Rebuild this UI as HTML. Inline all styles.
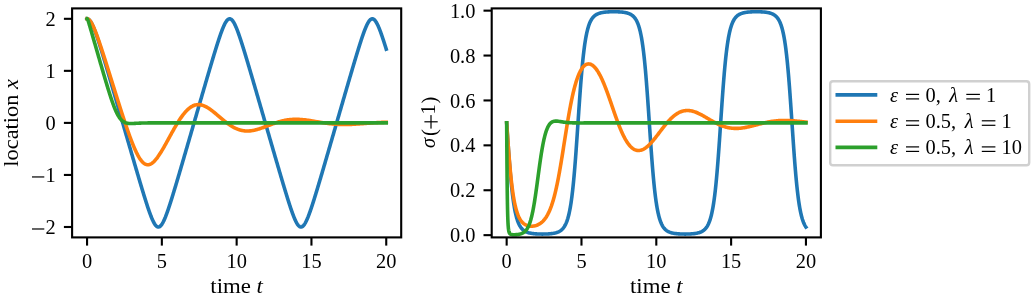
<!DOCTYPE html>
<html><head><meta charset="utf-8"><style>html,body{margin:0;padding:0;background:#fff;overflow:hidden;width:1033px;height:301px;}svg{display:block;will-change:transform;}</style></head>
<body><svg width="1033" height="301" viewBox="0 0 1033 301"><rect width="100%" height="100%" fill="#fff"/><clipPath id="c0"><rect x="72.1" y="8.4" width="329.10" height="229.00"/></clipPath><g clip-path="url(#c0)" fill="none" stroke-width="3.6" stroke-linejoin="round" stroke-linecap="square"><path d="M87.06 18.81 L87.78 18.93 L88.35 19.19 L88.82 19.52 L89.27 19.92 L89.66 20.34 L90.05 20.81 L90.41 21.30 L90.74 21.80 L91.07 22.33 L91.37 22.85 L91.67 23.39 L91.97 23.96 L92.23 24.50 L92.50 25.06 L92.77 25.64 L93.04 26.24 L93.31 26.86 L93.55 27.42 L93.79 27.99 L94.03 28.58 L94.27 29.18 L94.51 29.79 L94.75 30.41 L94.99 31.04 L95.23 31.68 L95.47 32.33 L95.71 32.99 L95.94 33.66 L96.18 34.34 L96.39 34.93 L96.60 35.54 L96.81 36.14 L97.02 36.76 L97.23 37.37 L97.44 38.00 L97.65 38.62 L97.86 39.25 L98.07 39.89 L98.28 40.53 L98.49 41.17 L98.70 41.81 L98.91 42.46 L99.12 43.11 L99.33 43.77 L99.53 44.43 L99.74 45.09 L99.95 45.75 L100.16 46.42 L100.37 47.09 L100.58 47.76 L100.79 48.43 L101.00 49.10 L101.21 49.78 L101.42 50.46 L101.63 51.14 L101.84 51.82 L102.05 52.51 L102.26 53.19 L102.47 53.88 L102.68 54.57 L102.89 55.26 L103.10 55.95 L103.30 56.64 L103.51 57.34 L103.72 58.03 L103.93 58.73 L104.14 59.42 L104.35 60.12 L104.56 60.82 L104.77 61.52 L104.98 62.22 L105.19 62.92 L105.40 63.63 L105.61 64.33 L105.82 65.04 L106.03 65.74 L106.24 66.45 L106.45 67.15 L106.66 67.86 L106.86 68.57 L107.07 69.28 L107.28 69.98 L107.49 70.69 L107.70 71.40 L107.91 72.11 L108.12 72.82 L108.33 73.54 L108.54 74.25 L108.75 74.96 L108.96 75.67 L109.17 76.38 L109.38 77.10 L109.59 77.81 L109.80 78.53 L110.01 79.24 L110.22 79.96 L110.43 80.67 L110.63 81.39 L110.84 82.10 L111.05 82.82 L111.26 83.53 L111.47 84.25 L111.68 84.97 L111.89 85.68 L112.10 86.40 L112.31 87.12 L112.52 87.84 L112.73 88.55 L112.94 89.27 L113.15 89.99 L113.36 90.71 L113.57 91.43 L113.78 92.14 L113.99 92.86 L114.19 93.58 L114.40 94.30 L114.61 95.02 L114.82 95.74 L115.03 96.46 L115.24 97.18 L115.45 97.90 L115.66 98.62 L115.87 99.34 L116.08 100.06 L116.29 100.78 L116.50 101.50 L116.71 102.22 L116.92 102.94 L117.13 103.66 L117.34 104.38 L117.55 105.10 L117.76 105.82 L117.96 106.54 L118.17 107.27 L118.38 107.99 L118.59 108.71 L118.80 109.43 L119.01 110.15 L119.22 110.87 L119.43 111.59 L119.64 112.31 L119.85 113.04 L120.06 113.76 L120.27 114.48 L120.48 115.20 L120.69 115.92 L120.90 116.64 L121.11 117.36 L121.32 118.09 L121.52 118.81 L121.73 119.53 L121.94 120.25 L122.15 120.97 L122.36 121.69 L122.57 122.42 L122.78 123.14 L122.99 123.86 L123.20 124.58 L123.41 125.30 L123.62 126.02 L123.83 126.75 L124.04 127.47 L124.25 128.19 L124.46 128.91 L124.67 129.63 L124.88 130.35 L125.09 131.08 L125.29 131.80 L125.50 132.52 L125.71 133.24 L125.92 133.96 L126.13 134.68 L126.34 135.40 L126.55 136.12 L126.76 136.85 L126.97 137.57 L127.18 138.29 L127.39 139.01 L127.60 139.73 L127.81 140.45 L128.02 141.17 L128.23 141.89 L128.44 142.61 L128.65 143.33 L128.85 144.05 L129.06 144.77 L129.27 145.49 L129.48 146.21 L129.69 146.93 L129.90 147.65 L130.11 148.37 L130.32 149.09 L130.53 149.81 L130.74 150.53 L130.95 151.25 L131.16 151.97 L131.37 152.69 L131.58 153.41 L131.79 154.13 L132.00 154.85 L132.21 155.57 L132.42 156.28 L132.62 157.00 L132.83 157.72 L133.04 158.44 L133.25 159.15 L133.46 159.87 L133.67 160.59 L133.88 161.31 L134.09 162.02 L134.30 162.74 L134.51 163.45 L134.72 164.17 L134.93 164.89 L135.14 165.60 L135.35 166.32 L135.56 167.03 L135.77 167.74 L135.98 168.46 L136.18 169.17 L136.39 169.88 L136.60 170.60 L136.81 171.31 L137.02 172.02 L137.23 172.73 L137.44 173.44 L137.65 174.15 L137.86 174.86 L138.07 175.57 L138.28 176.28 L138.49 176.99 L138.70 177.70 L138.91 178.41 L139.12 179.11 L139.33 179.82 L139.54 180.52 L139.75 181.23 L139.95 181.93 L140.16 182.64 L140.37 183.34 L140.58 184.04 L140.79 184.74 L141.00 185.44 L141.21 186.14 L141.42 186.83 L141.63 187.53 L141.84 188.23 L142.05 188.92 L142.26 189.61 L142.47 190.31 L142.68 191.00 L142.89 191.69 L143.10 192.37 L143.31 193.06 L143.51 193.74 L143.72 194.43 L143.93 195.11 L144.14 195.79 L144.35 196.46 L144.56 197.14 L144.77 197.81 L144.98 198.49 L145.19 199.15 L145.40 199.82 L145.61 200.49 L145.82 201.15 L146.03 201.81 L146.24 202.46 L146.45 203.12 L146.66 203.77 L146.87 204.41 L147.07 205.06 L147.28 205.70 L147.49 206.33 L147.70 206.96 L147.91 207.59 L148.12 208.21 L148.33 208.83 L148.54 209.45 L148.75 210.06 L148.96 210.66 L149.17 211.26 L149.38 211.85 L149.62 212.52 L149.86 213.19 L150.10 213.84 L150.34 214.49 L150.58 215.12 L150.81 215.75 L151.05 216.36 L151.29 216.97 L151.53 217.56 L151.77 218.14 L152.01 218.71 L152.28 219.33 L152.55 219.93 L152.82 220.52 L153.09 221.09 L153.36 221.63 L153.66 222.22 L153.96 222.77 L154.26 223.30 L154.58 223.84 L154.91 224.35 L155.27 224.85 L155.63 225.31 L156.02 225.75 L156.44 226.15 L156.92 226.51 L157.46 226.80 L158.11 226.98 L158.89 226.93 L159.49 226.70 L160.00 226.38 L160.45 226.01 L160.87 225.58 L161.26 225.12 L161.62 224.64 L161.94 224.16 L162.27 223.64 L162.57 223.13 L162.87 222.60 L163.17 222.03 L163.44 221.50 L163.71 220.95 L163.98 220.38 L164.25 219.79 L164.52 219.18 L164.79 218.55 L165.03 217.98 L165.27 217.40 L165.50 216.80 L165.74 216.19 L165.98 215.57 L166.22 214.95 L166.46 214.31 L166.70 213.66 L166.94 213.00 L167.18 212.34 L167.42 211.67 L167.63 211.07 L167.84 210.47 L168.05 209.87 L168.26 209.25 L168.47 208.64 L168.68 208.02 L168.89 207.39 L169.09 206.76 L169.30 206.13 L169.51 205.49 L169.72 204.85 L169.93 204.21 L170.14 203.56 L170.35 202.91 L170.56 202.25 L170.77 201.60 L170.98 200.94 L171.19 200.28 L171.40 199.61 L171.61 198.94 L171.82 198.27 L172.03 197.60 L172.24 196.93 L172.45 196.25 L172.66 195.57 L172.86 194.89 L173.07 194.21 L173.28 193.53 L173.49 192.84 L173.70 192.16 L173.91 191.47 L174.12 190.78 L174.33 190.09 L174.54 189.39 L174.75 188.70 L174.96 188.01 L175.17 187.31 L175.38 186.61 L175.59 185.92 L175.80 185.22 L176.01 184.52 L176.22 183.82 L176.42 183.12 L176.63 182.41 L176.84 181.71 L177.05 181.01 L177.26 180.30 L177.47 179.60 L177.68 178.89 L177.89 178.18 L178.10 177.47 L178.31 176.77 L178.52 176.06 L178.73 175.35 L178.94 174.64 L179.15 173.93 L179.36 173.22 L179.57 172.51 L179.78 171.80 L179.98 171.08 L180.19 170.37 L180.40 169.66 L180.61 168.95 L180.82 168.23 L181.03 167.52 L181.24 166.80 L181.45 166.09 L181.66 165.37 L181.87 164.66 L182.08 163.94 L182.29 163.23 L182.50 162.51 L182.71 161.80 L182.92 161.08 L183.13 160.36 L183.34 159.64 L183.55 158.93 L183.75 158.21 L183.96 157.49 L184.17 156.77 L184.38 156.06 L184.59 155.34 L184.80 154.62 L185.01 153.90 L185.22 153.18 L185.43 152.46 L185.64 151.74 L185.85 151.02 L186.06 150.31 L186.27 149.59 L186.48 148.87 L186.69 148.15 L186.90 147.43 L187.11 146.71 L187.31 145.99 L187.52 145.27 L187.73 144.55 L187.94 143.83 L188.15 143.11 L188.36 142.38 L188.57 141.66 L188.78 140.94 L188.99 140.22 L189.20 139.50 L189.41 138.78 L189.62 138.06 L189.83 137.34 L190.04 136.62 L190.25 135.90 L190.46 135.18 L190.67 134.45 L190.88 133.73 L191.08 133.01 L191.29 132.29 L191.50 131.57 L191.71 130.85 L191.92 130.13 L192.13 129.40 L192.34 128.68 L192.55 127.96 L192.76 127.24 L192.97 126.52 L193.18 125.80 L193.39 125.07 L193.60 124.35 L193.81 123.63 L194.02 122.91 L194.23 122.19 L194.44 121.47 L194.64 120.74 L194.85 120.02 L195.06 119.30 L195.27 118.58 L195.48 117.86 L195.69 117.14 L195.90 116.41 L196.11 115.69 L196.32 114.97 L196.53 114.25 L196.74 113.53 L196.95 112.81 L197.16 112.09 L197.37 111.36 L197.58 110.64 L197.79 109.92 L198.00 109.20 L198.21 108.48 L198.41 107.76 L198.62 107.04 L198.83 106.32 L199.04 105.60 L199.25 104.87 L199.46 104.15 L199.67 103.43 L199.88 102.71 L200.09 101.99 L200.30 101.27 L200.51 100.55 L200.72 99.83 L200.93 99.11 L201.14 98.39 L201.35 97.67 L201.56 96.95 L201.77 96.23 L201.97 95.51 L202.18 94.79 L202.39 94.07 L202.60 93.35 L202.81 92.64 L203.02 91.92 L203.23 91.20 L203.44 90.48 L203.65 89.76 L203.86 89.04 L204.07 88.33 L204.28 87.61 L204.49 86.89 L204.70 86.17 L204.91 85.46 L205.12 84.74 L205.33 84.02 L205.54 83.31 L205.74 82.59 L205.95 81.87 L206.16 81.16 L206.37 80.44 L206.58 79.73 L206.79 79.01 L207.00 78.30 L207.21 77.59 L207.42 76.87 L207.63 76.16 L207.84 75.45 L208.05 74.73 L208.26 74.02 L208.47 73.31 L208.68 72.60 L208.89 71.89 L209.10 71.18 L209.30 70.47 L209.51 69.76 L209.72 69.05 L209.93 68.34 L210.14 67.64 L210.35 66.93 L210.56 66.22 L210.77 65.52 L210.98 64.81 L211.19 64.11 L211.40 63.40 L211.61 62.70 L211.82 62.00 L212.03 61.30 L212.24 60.60 L212.45 59.90 L212.66 59.20 L212.87 58.51 L213.07 57.81 L213.28 57.12 L213.49 56.42 L213.70 55.73 L213.91 55.04 L214.12 54.35 L214.33 53.66 L214.54 52.98 L214.75 52.29 L214.96 51.61 L215.17 50.92 L215.38 50.24 L215.59 49.57 L215.80 48.89 L216.01 48.22 L216.22 47.54 L216.43 46.87 L216.63 46.21 L216.84 45.54 L217.05 44.88 L217.26 44.22 L217.47 43.56 L217.68 42.91 L217.89 42.26 L218.10 41.61 L218.31 40.96 L218.52 40.32 L218.73 39.69 L218.94 39.05 L219.15 38.42 L219.36 37.80 L219.57 37.18 L219.78 36.56 L219.99 35.95 L220.20 35.34 L220.40 34.74 L220.61 34.15 L220.85 33.47 L221.09 32.81 L221.33 32.15 L221.57 31.51 L221.81 30.87 L222.05 30.24 L222.29 29.62 L222.53 29.01 L222.77 28.42 L223.01 27.83 L223.25 27.26 L223.52 26.63 L223.79 26.02 L224.05 25.43 L224.32 24.86 L224.59 24.31 L224.86 23.78 L225.16 23.21 L225.46 22.68 L225.76 22.17 L226.09 21.65 L226.42 21.17 L226.78 20.69 L227.17 20.23 L227.58 19.80 L228.03 19.42 L228.54 19.10 L229.14 18.87 L229.89 18.82 L230.55 18.98 L231.09 19.27 L231.56 19.62 L231.98 20.02 L232.37 20.45 L232.73 20.90 L233.09 21.40 L233.42 21.90 L233.75 22.44 L234.05 22.96 L234.35 23.52 L234.65 24.10 L234.91 24.64 L235.18 25.20 L235.45 25.79 L235.72 26.39 L235.99 27.01 L236.23 27.58 L236.47 28.16 L236.71 28.75 L236.95 29.35 L237.19 29.96 L237.43 30.59 L237.67 31.22 L237.91 31.86 L238.15 32.52 L238.39 33.18 L238.62 33.85 L238.83 34.44 L239.04 35.04 L239.25 35.64 L239.46 36.25 L239.67 36.86 L239.88 37.48 L240.09 38.10 L240.30 38.73 L240.51 39.36 L240.72 40.00 L240.93 40.64 L241.14 41.28 L241.35 41.93 L241.56 42.58 L241.77 43.23 L241.98 43.88 L242.18 44.54 L242.39 45.20 L242.60 45.87 L242.81 46.53 L243.02 47.20 L243.23 47.87 L243.44 48.55 L243.65 49.22 L243.86 49.90 L244.07 50.58 L244.28 51.26 L244.49 51.94 L244.70 52.63 L244.91 53.31 L245.12 54.00 L245.33 54.69 L245.54 55.38 L245.75 56.07 L245.95 56.76 L246.16 57.46 L246.37 58.15 L246.58 58.85 L246.79 59.55 L247.00 60.24 L247.21 60.94 L247.42 61.64 L247.63 62.34 L247.84 63.05 L248.05 63.75 L248.26 64.45 L248.47 65.16 L248.68 65.86 L248.89 66.57 L249.10 67.28 L249.31 67.98 L249.51 68.69 L249.72 69.40 L249.93 70.11 L250.14 70.82 L250.35 71.53 L250.56 72.24 L250.77 72.95 L250.98 73.66 L251.19 74.37 L251.40 75.08 L251.61 75.80 L251.82 76.51 L252.03 77.22 L252.24 77.94 L252.45 78.65 L252.66 79.36 L252.87 80.08 L253.08 80.79 L253.28 81.51 L253.49 82.23 L253.70 82.94 L253.91 83.66 L254.12 84.37 L254.33 85.09 L254.54 85.81 L254.75 86.53 L254.96 87.24 L255.17 87.96 L255.38 88.68 L255.59 89.40 L255.80 90.11 L256.01 90.83 L256.22 91.55 L256.43 92.27 L256.64 92.99 L256.84 93.71 L257.05 94.43 L257.26 95.15 L257.47 95.87 L257.68 96.58 L257.89 97.30 L258.10 98.02 L258.31 98.74 L258.52 99.46 L258.73 100.18 L258.94 100.90 L259.15 101.63 L259.36 102.35 L259.57 103.07 L259.78 103.79 L259.99 104.51 L260.20 105.23 L260.41 105.95 L260.61 106.67 L260.82 107.39 L261.03 108.11 L261.24 108.83 L261.45 109.55 L261.66 110.28 L261.87 111.00 L262.08 111.72 L262.29 112.44 L262.50 113.16 L262.71 113.88 L262.92 114.60 L263.13 115.33 L263.34 116.05 L263.55 116.77 L263.76 117.49 L263.97 118.21 L264.17 118.93 L264.38 119.65 L264.59 120.38 L264.80 121.10 L265.01 121.82 L265.22 122.54 L265.43 123.26 L265.64 123.98 L265.85 124.71 L266.06 125.43 L266.27 126.15 L266.48 126.87 L266.69 127.59 L266.90 128.31 L267.11 129.04 L267.32 129.76 L267.53 130.48 L267.73 131.20 L267.94 131.92 L268.15 132.64 L268.36 133.36 L268.57 134.09 L268.78 134.81 L268.99 135.53 L269.20 136.25 L269.41 136.97 L269.62 137.69 L269.83 138.41 L270.04 139.13 L270.25 139.86 L270.46 140.58 L270.67 141.30 L270.88 142.02 L271.09 142.74 L271.30 143.46 L271.50 144.18 L271.71 144.90 L271.92 145.62 L272.13 146.34 L272.34 147.06 L272.55 147.78 L272.76 148.50 L272.97 149.22 L273.18 149.94 L273.39 150.66 L273.60 151.38 L273.81 152.10 L274.02 152.82 L274.23 153.53 L274.44 154.25 L274.65 154.97 L274.86 155.69 L275.06 156.41 L275.27 157.13 L275.48 157.84 L275.69 158.56 L275.90 159.28 L276.11 160.00 L276.32 160.71 L276.53 161.43 L276.74 162.15 L276.95 162.86 L277.16 163.58 L277.37 164.29 L277.58 165.01 L277.79 165.72 L278.00 166.44 L278.21 167.15 L278.42 167.87 L278.63 168.58 L278.83 169.30 L279.04 170.01 L279.25 170.72 L279.46 171.43 L279.67 172.14 L279.88 172.86 L280.09 173.57 L280.30 174.28 L280.51 174.99 L280.72 175.70 L280.93 176.41 L281.14 177.11 L281.35 177.82 L281.56 178.53 L281.77 179.24 L281.98 179.94 L282.19 180.65 L282.39 181.35 L282.60 182.05 L282.81 182.76 L283.02 183.46 L283.23 184.16 L283.44 184.86 L283.65 185.56 L283.86 186.26 L284.07 186.96 L284.28 187.65 L284.49 188.35 L284.70 189.04 L284.91 189.73 L285.12 190.43 L285.33 191.12 L285.54 191.80 L285.75 192.49 L285.96 193.18 L286.16 193.86 L286.37 194.54 L286.58 195.23 L286.79 195.90 L287.00 196.58 L287.21 197.26 L287.42 197.93 L287.63 198.60 L287.84 199.27 L288.05 199.94 L288.26 200.60 L288.47 201.26 L288.68 201.92 L288.89 202.58 L289.10 203.23 L289.31 203.88 L289.52 204.52 L289.72 205.17 L289.93 205.81 L290.14 206.44 L290.35 207.07 L290.56 207.70 L290.77 208.32 L290.98 208.94 L291.19 209.55 L291.40 210.16 L291.61 210.77 L291.82 211.36 L292.03 211.96 L292.27 212.63 L292.51 213.29 L292.75 213.94 L292.99 214.58 L293.23 215.22 L293.46 215.84 L293.70 216.45 L293.94 217.06 L294.18 217.65 L294.42 218.23 L294.66 218.79 L294.93 219.41 L295.20 220.01 L295.47 220.60 L295.74 221.16 L296.01 221.71 L296.31 222.29 L296.61 222.84 L296.91 223.36 L297.23 223.90 L297.56 224.40 L297.92 224.90 L298.28 225.35 L298.67 225.78 L299.09 226.18 L299.57 226.54 L300.11 226.82 L300.76 226.98 L301.51 226.93 L302.11 226.70 L302.62 226.38 L303.07 226.00 L303.49 225.57 L303.88 225.11 L304.24 224.63 L304.56 224.15 L304.89 223.63 L305.19 223.12 L305.49 222.58 L305.79 222.02 L306.06 221.49 L306.33 220.94 L306.60 220.36 L306.87 219.77 L307.14 219.16 L307.41 218.54 L307.65 217.96 L307.89 217.38 L308.12 216.78 L308.36 216.18 L308.60 215.56 L308.84 214.93 L309.08 214.29 L309.32 213.64 L309.56 212.99 L309.80 212.32 L310.04 211.65 L310.25 211.05 L310.46 210.45 L310.67 209.85 L310.88 209.24 L311.09 208.62 L311.30 208.00 L311.51 207.37 L311.71 206.74 L311.92 206.11 L312.13 205.47 L312.34 204.83 L312.55 204.19 L312.76 203.54 L312.97 202.89 L313.18 202.23 L313.39 201.58 L313.60 200.92 L313.81 200.25 L314.02 199.59 L314.23 198.92 L314.44 198.25 L314.65 197.58 L314.86 196.91 L315.07 196.23 L315.27 195.55 L315.48 194.87 L315.69 194.19 L315.90 193.51 L316.11 192.82 L316.32 192.13 L316.53 191.45 L316.74 190.76 L316.95 190.07 L317.16 189.37 L317.37 188.68 L317.58 187.98 L317.79 187.29 L318.00 186.59 L318.21 185.89 L318.42 185.20 L318.63 184.50 L318.84 183.79 L319.04 183.09 L319.25 182.39 L319.46 181.69 L319.67 180.98 L319.88 180.28 L320.09 179.57 L320.30 178.87 L320.51 178.16 L320.72 177.45 L320.93 176.75 L321.14 176.04 L321.35 175.33 L321.56 174.62 L321.77 173.91 L321.98 173.20 L322.19 172.49 L322.40 171.77 L322.60 171.06 L322.81 170.35 L323.02 169.64 L323.23 168.92 L323.44 168.21 L323.65 167.50 L323.86 166.78 L324.07 166.07 L324.28 165.35 L324.49 164.64 L324.70 163.92 L324.91 163.21 L325.12 162.49 L325.33 161.77 L325.54 161.06 L325.75 160.34 L325.96 159.62 L326.17 158.91 L326.37 158.19 L326.58 157.47 L326.79 156.75 L327.00 156.03 L327.21 155.32 L327.42 154.60 L327.63 153.88 L327.84 153.16 L328.05 152.44 L328.26 151.72 L328.47 151.00 L328.68 150.28 L328.89 149.56 L329.10 148.84 L329.31 148.12 L329.52 147.40 L329.73 146.68 L329.93 145.96 L330.14 145.24 L330.35 144.52 L330.56 143.80 L330.77 143.08 L330.98 142.36 L331.19 141.64 L331.40 140.92 L331.61 140.20 L331.82 139.48 L332.03 138.76 L332.24 138.04 L332.45 137.32 L332.66 136.60 L332.87 135.87 L333.08 135.15 L333.29 134.43 L333.50 133.71 L333.70 132.99 L333.91 132.27 L334.12 131.55 L334.33 130.82 L334.54 130.10 L334.75 129.38 L334.96 128.66 L335.17 127.94 L335.38 127.22 L335.59 126.49 L335.80 125.77 L336.01 125.05 L336.22 124.33 L336.43 123.61 L336.64 122.89 L336.85 122.17 L337.06 121.44 L337.26 120.72 L337.47 120.00 L337.68 119.28 L337.89 118.56 L338.10 117.84 L338.31 117.11 L338.52 116.39 L338.73 115.67 L338.94 114.95 L339.15 114.23 L339.36 113.51 L339.57 112.78 L339.78 112.06 L339.99 111.34 L340.20 110.62 L340.41 109.90 L340.62 109.18 L340.83 108.46 L341.03 107.74 L341.24 107.02 L341.45 106.29 L341.66 105.57 L341.87 104.85 L342.08 104.13 L342.29 103.41 L342.50 102.69 L342.71 101.97 L342.92 101.25 L343.13 100.53 L343.34 99.81 L343.55 99.09 L343.76 98.37 L343.97 97.65 L344.18 96.93 L344.39 96.21 L344.59 95.49 L344.80 94.77 L345.01 94.05 L345.22 93.33 L345.43 92.61 L345.64 91.89 L345.85 91.18 L346.06 90.46 L346.27 89.74 L346.48 89.02 L346.69 88.30 L346.90 87.59 L347.11 86.87 L347.32 86.15 L347.53 85.43 L347.74 84.72 L347.95 84.00 L348.16 83.28 L348.36 82.57 L348.57 81.85 L348.78 81.14 L348.99 80.42 L349.20 79.71 L349.41 78.99 L349.62 78.28 L349.83 77.56 L350.04 76.85 L350.25 76.14 L350.46 75.42 L350.67 74.71 L350.88 74.00 L351.09 73.29 L351.30 72.58 L351.51 71.87 L351.72 71.16 L351.92 70.45 L352.13 69.74 L352.34 69.03 L352.55 68.32 L352.76 67.61 L352.97 66.91 L353.18 66.20 L353.39 65.50 L353.60 64.79 L353.81 64.09 L354.02 63.38 L354.23 62.68 L354.44 61.98 L354.65 61.28 L354.86 60.58 L355.07 59.88 L355.28 59.18 L355.49 58.49 L355.69 57.79 L355.90 57.09 L356.11 56.40 L356.32 55.71 L356.53 55.02 L356.74 54.33 L356.95 53.64 L357.16 52.95 L357.37 52.27 L357.58 51.59 L357.79 50.90 L358.00 50.22 L358.21 49.55 L358.42 48.87 L358.63 48.20 L358.84 47.52 L359.05 46.85 L359.25 46.19 L359.46 45.52 L359.67 44.86 L359.88 44.20 L360.09 43.54 L360.30 42.89 L360.51 42.24 L360.72 41.59 L360.93 40.94 L361.14 40.30 L361.35 39.67 L361.56 39.03 L361.77 38.40 L361.98 37.78 L362.19 37.16 L362.40 36.54 L362.61 35.93 L362.81 35.33 L363.02 34.72 L363.23 34.13 L363.47 33.46 L363.71 32.79 L363.95 32.14 L364.19 31.49 L364.43 30.85 L364.67 30.22 L364.91 29.60 L365.15 29.00 L365.39 28.40 L365.63 27.82 L365.87 27.25 L366.14 26.62 L366.41 26.01 L366.67 25.42 L366.94 24.85 L367.21 24.30 L367.51 23.71 L367.81 23.15 L368.11 22.61 L368.41 22.11 L368.74 21.59 L369.07 21.12 L369.43 20.64 L369.82 20.19 L370.23 19.76 L370.68 19.40 L371.19 19.08 L371.79 18.87 L372.57 18.83 L373.20 19.00 L373.74 19.29 L374.21 19.65 L374.63 20.05 L375.02 20.49 L375.38 20.95 L375.74 21.45 L376.07 21.96 L376.40 22.50 L376.70 23.03 L377.00 23.59 L377.30 24.17 L377.56 24.71 L377.83 25.28 L378.10 25.87 L378.37 26.47 L378.64 27.10 L378.88 27.66 L379.12 28.24 L379.36 28.84 L379.60 29.44 L379.84 30.06 L380.08 30.68 L380.32 31.32 L380.56 31.96 L380.80 32.62 L381.04 33.28 L381.27 33.95 L381.48 34.54 L381.69 35.14 L381.90 35.75 L382.11 36.36 L382.32 36.97 L382.53 37.59 L382.74 38.21 L382.95 38.84 L383.16 39.47 L383.37 40.11 L383.58 40.75 L383.79 41.39 L384.00 42.04 L384.21 42.69 L384.42 43.34 L384.63 44.00 L384.83 44.66 L385.04 45.32 L385.25 45.98 L385.46 46.65 L385.67 47.32 L385.88 47.99 L386.09 48.66 L386.24 49.15" stroke="#1f77b4"/><path d="M87.06 18.81 L87.78 18.93 L88.35 19.19 L88.82 19.51 L89.27 19.90 L89.69 20.34 L90.08 20.81 L90.44 21.29 L90.77 21.76 L91.10 22.27 L91.43 22.82 L91.73 23.34 L92.03 23.89 L92.32 24.46 L92.59 24.99 L92.86 25.54 L93.13 26.11 L93.40 26.69 L93.67 27.29 L93.94 27.91 L94.21 28.53 L94.45 29.10 L94.69 29.68 L94.93 30.26 L95.17 30.86 L95.41 31.46 L95.65 32.07 L95.88 32.69 L96.12 33.32 L96.36 33.95 L96.60 34.59 L96.84 35.24 L97.08 35.89 L97.32 36.55 L97.56 37.22 L97.80 37.88 L98.04 38.56 L98.25 39.15 L98.46 39.75 L98.67 40.35 L98.88 40.95 L99.09 41.56 L99.30 42.17 L99.51 42.78 L99.71 43.40 L99.92 44.02 L100.13 44.64 L100.34 45.26 L100.55 45.89 L100.76 46.52 L100.97 47.15 L101.18 47.78 L101.39 48.41 L101.60 49.05 L101.81 49.68 L102.02 50.32 L102.23 50.96 L102.44 51.61 L102.65 52.25 L102.86 52.90 L103.07 53.54 L103.27 54.19 L103.48 54.84 L103.69 55.49 L103.90 56.14 L104.11 56.80 L104.32 57.45 L104.53 58.10 L104.74 58.76 L104.95 59.42 L105.16 60.08 L105.37 60.73 L105.58 61.39 L105.79 62.05 L106.00 62.72 L106.21 63.38 L106.42 64.04 L106.63 64.70 L106.84 65.37 L107.04 66.03 L107.25 66.70 L107.46 67.36 L107.67 68.03 L107.88 68.69 L108.09 69.36 L108.30 70.03 L108.51 70.70 L108.72 71.36 L108.93 72.03 L109.14 72.70 L109.35 73.37 L109.56 74.04 L109.77 74.71 L109.98 75.38 L110.19 76.05 L110.40 76.72 L110.60 77.39 L110.81 78.06 L111.02 78.73 L111.23 79.40 L111.44 80.07 L111.65 80.74 L111.86 81.41 L112.07 82.08 L112.28 82.75 L112.49 83.42 L112.70 84.09 L112.91 84.76 L113.12 85.43 L113.33 86.10 L113.54 86.77 L113.75 87.44 L113.96 88.11 L114.16 88.78 L114.37 89.45 L114.58 90.12 L114.79 90.79 L115.00 91.46 L115.21 92.13 L115.42 92.80 L115.63 93.46 L115.84 94.13 L116.05 94.80 L116.26 95.46 L116.47 96.13 L116.68 96.80 L116.89 97.46 L117.10 98.12 L117.31 98.79 L117.52 99.45 L117.73 100.12 L117.93 100.78 L118.14 101.44 L118.35 102.10 L118.56 102.76 L118.77 103.42 L118.98 104.08 L119.19 104.74 L119.40 105.40 L119.61 106.06 L119.82 106.71 L120.03 107.37 L120.24 108.02 L120.45 108.68 L120.66 109.33 L120.87 109.98 L121.08 110.63 L121.29 111.28 L121.49 111.93 L121.70 112.58 L121.91 113.22 L122.12 113.87 L122.33 114.51 L122.54 115.16 L122.75 115.80 L122.96 116.44 L123.17 117.08 L123.38 117.72 L123.59 118.36 L123.80 118.99 L124.01 119.62 L124.22 120.26 L124.43 120.89 L124.64 121.52 L124.85 122.14 L125.06 122.77 L125.26 123.39 L125.47 124.02 L125.68 124.64 L125.89 125.26 L126.10 125.87 L126.31 126.49 L126.52 127.10 L126.73 127.71 L126.94 128.32 L127.15 128.93 L127.36 129.53 L127.57 130.13 L127.78 130.73 L127.99 131.33 L128.20 131.92 L128.41 132.52 L128.65 133.19 L128.88 133.86 L129.12 134.52 L129.36 135.19 L129.60 135.85 L129.84 136.50 L130.08 137.15 L130.32 137.80 L130.56 138.44 L130.80 139.08 L131.04 139.71 L131.28 140.34 L131.52 140.96 L131.76 141.58 L132.00 142.20 L132.24 142.81 L132.47 143.41 L132.71 144.01 L132.95 144.60 L133.19 145.19 L133.43 145.77 L133.67 146.34 L133.91 146.91 L134.15 147.47 L134.42 148.10 L134.69 148.72 L134.96 149.32 L135.23 149.92 L135.50 150.51 L135.77 151.09 L136.04 151.67 L136.30 152.23 L136.57 152.78 L136.84 153.32 L137.11 153.86 L137.41 154.43 L137.71 155.00 L138.01 155.55 L138.31 156.09 L138.61 156.61 L138.91 157.12 L139.24 157.67 L139.57 158.19 L139.89 158.70 L140.22 159.19 L140.58 159.70 L140.94 160.18 L141.30 160.65 L141.69 161.12 L142.08 161.57 L142.47 161.99 L142.89 162.41 L143.31 162.79 L143.75 163.16 L144.23 163.52 L144.74 163.85 L145.28 164.14 L145.85 164.38 L146.48 164.58 L147.16 164.71 L147.94 164.75 L148.69 164.68 L149.35 164.53 L149.98 164.32 L150.55 164.08 L151.08 163.79 L151.59 163.48 L152.07 163.15 L152.55 162.79 L153.00 162.42 L153.45 162.03 L153.87 161.63 L154.29 161.21 L154.70 160.77 L155.09 160.34 L155.48 159.90 L155.87 159.44 L156.26 158.96 L156.62 158.51 L156.98 158.04 L157.34 157.56 L157.70 157.07 L158.05 156.57 L158.41 156.05 L158.74 155.57 L159.07 155.09 L159.40 154.59 L159.73 154.09 L160.06 153.58 L160.39 153.06 L160.72 152.53 L161.05 152.00 L161.38 151.47 L161.70 150.92 L162.03 150.38 L162.33 149.87 L162.63 149.37 L162.93 148.86 L163.23 148.34 L163.53 147.82 L163.83 147.30 L164.13 146.78 L164.43 146.25 L164.73 145.72 L165.03 145.19 L165.33 144.66 L165.62 144.12 L165.92 143.58 L166.22 143.05 L166.52 142.50 L166.82 141.96 L167.12 141.42 L167.42 140.87 L167.72 140.33 L168.02 139.78 L168.32 139.24 L168.62 138.69 L168.92 138.14 L169.21 137.60 L169.51 137.05 L169.81 136.50 L170.11 135.96 L170.41 135.41 L170.71 134.87 L171.01 134.32 L171.31 133.78 L171.61 133.24 L171.91 132.70 L172.21 132.16 L172.51 131.62 L172.80 131.09 L173.10 130.55 L173.40 130.02 L173.70 129.49 L174.00 128.97 L174.30 128.44 L174.60 127.92 L174.90 127.40 L175.20 126.89 L175.50 126.37 L175.80 125.86 L176.10 125.36 L176.39 124.85 L176.72 124.31 L177.05 123.76 L177.38 123.22 L177.71 122.69 L178.04 122.16 L178.37 121.63 L178.70 121.11 L179.03 120.60 L179.36 120.09 L179.69 119.59 L180.01 119.09 L180.34 118.60 L180.67 118.12 L181.00 117.64 L181.36 117.13 L181.72 116.63 L182.08 116.13 L182.44 115.65 L182.80 115.17 L183.16 114.70 L183.52 114.24 L183.87 113.79 L184.23 113.34 L184.62 112.88 L185.01 112.42 L185.40 111.98 L185.79 111.54 L186.18 111.12 L186.60 110.68 L187.02 110.26 L187.43 109.85 L187.85 109.45 L188.30 109.05 L188.75 108.66 L189.20 108.29 L189.65 107.93 L190.13 107.57 L190.61 107.23 L191.11 106.90 L191.62 106.59 L192.16 106.28 L192.70 106.00 L193.27 105.73 L193.84 105.49 L194.44 105.27 L195.06 105.08 L195.72 104.91 L196.41 104.78 L197.13 104.68 L197.88 104.63 L198.68 104.62 L199.46 104.66 L200.18 104.74 L200.87 104.86 L201.53 105.00 L202.18 105.18 L202.81 105.37 L203.41 105.58 L204.01 105.82 L204.58 106.06 L205.15 106.32 L205.68 106.58 L206.22 106.86 L206.76 107.16 L207.27 107.45 L207.78 107.75 L208.29 108.07 L208.80 108.40 L209.30 108.74 L209.78 109.06 L210.26 109.40 L210.74 109.74 L211.22 110.09 L211.70 110.45 L212.18 110.82 L212.66 111.19 L213.10 111.54 L213.55 111.90 L214.00 112.26 L214.45 112.63 L214.90 112.99 L215.35 113.37 L215.80 113.74 L216.25 114.12 L216.69 114.50 L217.14 114.88 L217.59 115.26 L218.04 115.64 L218.49 116.03 L218.94 116.41 L219.39 116.79 L219.84 117.18 L220.28 117.56 L220.73 117.94 L221.18 118.32 L221.63 118.70 L222.08 119.08 L222.53 119.45 L222.98 119.82 L223.43 120.19 L223.87 120.56 L224.32 120.92 L224.77 121.28 L225.22 121.64 L225.67 121.99 L226.15 122.36 L226.63 122.73 L227.11 123.09 L227.58 123.44 L228.06 123.79 L228.54 124.13 L229.02 124.47 L229.50 124.80 L229.98 125.12 L230.49 125.45 L231.00 125.78 L231.50 126.10 L232.01 126.40 L232.52 126.70 L233.06 127.01 L233.60 127.31 L234.14 127.59 L234.68 127.87 L235.21 128.13 L235.78 128.40 L236.35 128.65 L236.92 128.89 L237.52 129.13 L238.12 129.36 L238.71 129.57 L239.34 129.77 L239.97 129.96 L240.60 130.14 L241.26 130.30 L241.92 130.45 L242.60 130.58 L243.29 130.70 L244.01 130.80 L244.76 130.88 L245.51 130.94 L246.28 130.98 L247.09 131.00 L247.90 130.99 L248.68 130.96 L249.45 130.92 L250.20 130.85 L250.95 130.77 L251.67 130.67 L252.39 130.56 L253.08 130.44 L253.76 130.31 L254.45 130.16 L255.11 130.01 L255.77 129.85 L256.43 129.68 L257.08 129.50 L257.71 129.32 L258.34 129.13 L258.97 128.94 L259.60 128.74 L260.23 128.53 L260.82 128.33 L261.42 128.12 L262.02 127.91 L262.62 127.70 L263.22 127.48 L263.82 127.26 L264.41 127.03 L265.01 126.81 L265.61 126.58 L266.21 126.35 L266.81 126.13 L267.41 125.90 L268.00 125.67 L268.60 125.44 L269.20 125.21 L269.80 124.98 L270.40 124.75 L271.00 124.53 L271.59 124.30 L272.19 124.08 L272.79 123.86 L273.39 123.65 L273.99 123.43 L274.59 123.23 L275.18 123.02 L275.78 122.82 L276.41 122.61 L277.04 122.41 L277.67 122.21 L278.30 122.02 L278.92 121.83 L279.55 121.65 L280.18 121.47 L280.84 121.30 L281.50 121.12 L282.16 120.96 L282.81 120.81 L283.47 120.66 L284.16 120.51 L284.85 120.37 L285.54 120.24 L286.22 120.12 L286.91 120.00 L287.63 119.89 L288.35 119.79 L289.07 119.70 L289.81 119.62 L290.56 119.55 L291.31 119.48 L292.06 119.43 L292.84 119.38 L293.61 119.35 L294.39 119.32 L295.20 119.31 L296.01 119.30 L296.82 119.31 L297.62 119.33 L298.40 119.35 L299.18 119.39 L299.96 119.43 L300.73 119.48 L301.48 119.54 L302.23 119.60 L302.98 119.67 L303.73 119.74 L304.47 119.83 L305.19 119.91 L305.91 120.00 L306.63 120.09 L307.35 120.19 L308.06 120.29 L308.78 120.39 L309.50 120.50 L310.22 120.61 L310.94 120.73 L311.65 120.84 L312.34 120.95 L313.03 121.07 L313.72 121.18 L314.41 121.30 L315.10 121.42 L315.78 121.53 L316.47 121.65 L317.16 121.77 L317.85 121.89 L318.54 122.00 L319.22 122.12 L319.91 122.23 L320.60 122.35 L321.29 122.46 L322.01 122.58 L322.72 122.69 L323.44 122.80 L324.16 122.91 L324.88 123.01 L325.60 123.12 L326.31 123.22 L327.03 123.32 L327.75 123.41 L328.47 123.50 L329.19 123.59 L329.90 123.67 L330.65 123.75 L331.40 123.83 L332.15 123.91 L332.90 123.98 L333.64 124.04 L334.39 124.11 L335.14 124.16 L335.89 124.22 L336.67 124.27 L337.44 124.31 L338.22 124.35 L339.00 124.39 L339.78 124.42 L340.56 124.44 L341.36 124.46 L342.17 124.48 L342.98 124.49 L343.79 124.50 L344.59 124.50 L345.40 124.49 L346.21 124.49 L347.02 124.48 L347.83 124.46 L348.63 124.44 L349.41 124.42 L350.19 124.39 L350.97 124.36 L351.75 124.33 L352.52 124.29 L353.30 124.25 L354.08 124.21 L354.86 124.17 L355.63 124.12 L356.41 124.07 L357.19 124.02 L357.97 123.97 L358.75 123.92 L359.49 123.87 L360.24 123.81 L360.99 123.76 L361.74 123.70 L362.49 123.65 L363.23 123.59 L363.98 123.53 L364.73 123.48 L365.48 123.42 L366.23 123.36 L366.97 123.31 L367.72 123.25 L368.47 123.19 L369.22 123.14 L369.97 123.09 L370.71 123.03 L371.46 122.98 L372.24 122.93 L373.02 122.88 L373.79 122.82 L374.57 122.78 L375.35 122.73 L376.13 122.68 L376.91 122.64 L377.68 122.60 L378.46 122.56 L379.24 122.52 L380.02 122.48 L380.80 122.45 L381.57 122.42 L382.35 122.39 L383.13 122.36 L383.91 122.33 L384.69 122.31 L385.49 122.29 L386.24 122.27" stroke="#ff7f0e"/><path d="M87.06 18.81 L87.51 19.23 L87.78 19.80 L88.02 20.42 L88.23 21.03 L88.44 21.67 L88.64 22.33 L88.85 23.01 L89.06 23.70 L89.27 24.41 L89.48 25.11 L89.69 25.82 L89.90 26.54 L90.11 27.26 L90.32 27.97 L90.53 28.69 L90.74 29.42 L90.95 30.14 L91.16 30.86 L91.37 31.58 L91.58 32.31 L91.76 32.93 L91.94 33.55 L92.12 34.17 L92.29 34.79 L92.47 35.41 L92.65 36.04 L92.83 36.66 L93.01 37.28 L93.19 37.90 L93.37 38.52 L93.55 39.15 L93.73 39.77 L93.91 40.39 L94.09 41.01 L94.27 41.63 L94.45 42.26 L94.63 42.88 L94.81 43.50 L94.99 44.12 L95.17 44.74 L95.35 45.37 L95.53 45.99 L95.71 46.61 L95.88 47.23 L96.06 47.85 L96.24 48.48 L96.42 49.10 L96.60 49.72 L96.78 50.34 L96.96 50.96 L97.14 51.58 L97.32 52.20 L97.50 52.83 L97.68 53.45 L97.86 54.07 L98.04 54.69 L98.22 55.31 L98.40 55.93 L98.61 56.65 L98.82 57.38 L99.03 58.10 L99.24 58.82 L99.45 59.55 L99.65 60.27 L99.86 60.99 L100.07 61.71 L100.28 62.44 L100.49 63.16 L100.70 63.88 L100.91 64.60 L101.12 65.32 L101.33 66.04 L101.54 66.76 L101.75 67.48 L101.96 68.20 L102.17 68.91 L102.38 69.63 L102.59 70.35 L102.80 71.06 L103.01 71.78 L103.21 72.50 L103.42 73.21 L103.63 73.92 L103.84 74.64 L104.05 75.35 L104.26 76.06 L104.47 76.77 L104.68 77.48 L104.89 78.18 L105.10 78.89 L105.31 79.60 L105.52 80.30 L105.73 81.00 L105.94 81.70 L106.15 82.40 L106.36 83.10 L106.57 83.80 L106.78 84.49 L106.98 85.19 L107.19 85.88 L107.40 86.57 L107.61 87.25 L107.82 87.94 L108.03 88.62 L108.24 89.30 L108.45 89.98 L108.66 90.65 L108.87 91.33 L109.08 92.00 L109.29 92.66 L109.50 93.32 L109.71 93.98 L109.92 94.64 L110.13 95.29 L110.34 95.94 L110.54 96.58 L110.75 97.23 L110.96 97.86 L111.17 98.49 L111.38 99.12 L111.59 99.74 L111.80 100.36 L112.01 100.97 L112.22 101.57 L112.43 102.17 L112.64 102.76 L112.88 103.44 L113.12 104.10 L113.36 104.75 L113.60 105.40 L113.84 106.03 L114.08 106.66 L114.31 107.27 L114.55 107.88 L114.79 108.47 L115.03 109.05 L115.27 109.63 L115.51 110.19 L115.78 110.80 L116.05 111.41 L116.32 111.99 L116.59 112.56 L116.86 113.12 L117.13 113.66 L117.43 114.24 L117.73 114.79 L118.02 115.33 L118.32 115.85 L118.65 116.39 L118.98 116.91 L119.31 117.41 L119.67 117.92 L120.03 118.40 L120.39 118.86 L120.78 119.32 L121.17 119.75 L121.58 120.18 L122.00 120.57 L122.45 120.95 L122.93 121.32 L123.41 121.65 L123.92 121.96 L124.46 122.25 L125.03 122.51 L125.62 122.75 L126.25 122.95 L126.91 123.12 L127.60 123.25 L128.32 123.36 L129.06 123.44 L129.84 123.49 L130.62 123.51 L131.43 123.52 L132.24 123.50 L133.01 123.48 L133.79 123.45 L134.57 123.41 L135.35 123.37 L136.12 123.32 L136.90 123.28 L137.68 123.24 L138.46 123.20 L139.24 123.16 L140.01 123.12 L140.79 123.09 L141.57 123.06 L142.35 123.03 L143.13 123.01 L143.93 122.99 L144.74 122.97 L145.55 122.95 L146.36 122.94 L147.16 122.93 L147.97 122.92 L148.78 122.91 L149.59 122.90 L150.40 122.90 L151.20 122.90 L152.01 122.89 L152.82 122.89 L153.63 122.89 L154.43 122.89 L155.24 122.89 L156.05 122.89 L156.86 122.89 L157.67 122.89 L158.47 122.89 L159.28 122.89 L160.09 122.89 L160.90 122.89 L161.70 122.89 L162.51 122.89 L163.32 122.90 L164.13 122.90 L164.94 122.90 L165.74 122.90 L166.55 122.90 L167.36 122.90 L168.17 122.90 L168.98 122.90 L169.78 122.90 L170.59 122.90 L171.40 122.90 L172.21 122.90 L173.01 122.90 L173.82 122.90 L174.63 122.90 L175.44 122.90 L176.25 122.90 L177.05 122.90 L177.86 122.90 L178.67 122.90 L179.48 122.90 L180.28 122.90 L181.09 122.90 L181.90 122.90 L182.71 122.90 L183.52 122.90 L184.32 122.90 L185.13 122.90 L185.94 122.90 L186.75 122.90 L187.55 122.90 L188.36 122.90 L189.17 122.90 L189.98 122.90 L190.79 122.90 L191.59 122.90 L192.40 122.90 L193.21 122.90 L194.02 122.90 L194.82 122.90 L195.63 122.90 L196.44 122.90 L197.25 122.90 L198.06 122.90 L198.86 122.90 L199.67 122.90 L200.48 122.90 L201.29 122.90 L202.09 122.90 L202.90 122.90 L203.71 122.90 L204.52 122.90 L205.33 122.90 L206.13 122.90 L206.94 122.90 L207.75 122.90 L208.56 122.90 L209.36 122.90 L210.17 122.90 L210.98 122.90 L211.79 122.90 L212.60 122.90 L213.40 122.90 L214.21 122.90 L215.02 122.90 L215.83 122.90 L216.63 122.90 L217.44 122.90 L218.25 122.90 L219.06 122.90 L219.87 122.90 L220.67 122.90 L221.48 122.90 L222.29 122.90 L223.10 122.90 L223.90 122.90 L224.71 122.90 L225.52 122.90 L226.33 122.90 L227.14 122.90 L227.94 122.90 L228.75 122.90 L229.56 122.90 L230.37 122.90 L231.17 122.90 L231.98 122.90 L232.79 122.90 L233.60 122.90 L234.41 122.90 L235.21 122.90 L236.02 122.90 L236.83 122.90 L237.64 122.90 L238.45 122.90 L239.25 122.90 L240.06 122.90 L240.87 122.90 L241.68 122.90 L242.48 122.90 L243.29 122.90 L244.10 122.90 L244.91 122.90 L245.72 122.90 L246.52 122.90 L247.33 122.90 L248.14 122.90 L248.95 122.90 L249.75 122.90 L250.56 122.90 L251.37 122.90 L252.18 122.90 L252.99 122.90 L253.79 122.90 L254.60 122.90 L255.41 122.90 L256.22 122.90 L257.02 122.90 L257.83 122.90 L258.64 122.90 L259.45 122.90 L260.26 122.90 L261.06 122.90 L261.87 122.90 L262.68 122.90 L263.49 122.90 L264.29 122.90 L265.10 122.90 L265.91 122.90 L266.72 122.90 L267.53 122.90 L268.33 122.90 L269.14 122.90 L269.95 122.90 L270.76 122.90 L271.56 122.90 L272.37 122.90 L273.18 122.90 L273.99 122.90 L274.80 122.90 L275.60 122.90 L276.41 122.90 L277.22 122.90 L278.03 122.90 L278.83 122.90 L279.64 122.90 L280.45 122.90 L281.26 122.90 L282.07 122.90 L282.87 122.90 L283.68 122.90 L284.49 122.90 L285.30 122.90 L286.10 122.90 L286.91 122.90 L287.72 122.90 L288.53 122.90 L289.34 122.90 L290.14 122.90 L290.95 122.90 L291.76 122.90 L292.57 122.90 L293.37 122.90 L294.18 122.90 L294.99 122.90 L295.80 122.90 L296.61 122.90 L297.41 122.90 L298.22 122.90 L299.03 122.90 L299.84 122.90 L300.64 122.90 L301.45 122.90 L302.26 122.90 L303.07 122.90 L303.88 122.90 L304.68 122.90 L305.49 122.90 L306.30 122.90 L307.11 122.90 L307.92 122.90 L308.72 122.90 L309.53 122.90 L310.34 122.90 L311.15 122.90 L311.95 122.90 L312.76 122.90 L313.57 122.90 L314.38 122.90 L315.19 122.90 L315.99 122.90 L316.80 122.90 L317.61 122.90 L318.42 122.90 L319.22 122.90 L320.03 122.90 L320.84 122.90 L321.65 122.90 L322.46 122.90 L323.26 122.90 L324.07 122.90 L324.88 122.90 L325.69 122.90 L326.49 122.90 L327.30 122.90 L328.11 122.90 L328.92 122.90 L329.73 122.90 L330.53 122.90 L331.34 122.90 L332.15 122.90 L332.96 122.90 L333.76 122.90 L334.57 122.90 L335.38 122.90 L336.19 122.90 L337.00 122.90 L337.80 122.90 L338.61 122.90 L339.42 122.90 L340.23 122.90 L341.03 122.90 L341.84 122.90 L342.65 122.90 L343.46 122.90 L344.27 122.90 L345.07 122.90 L345.88 122.90 L346.69 122.90 L347.50 122.90 L348.30 122.90 L349.11 122.90 L349.92 122.90 L350.73 122.90 L351.54 122.90 L352.34 122.90 L353.15 122.90 L353.96 122.90 L354.77 122.90 L355.57 122.90 L356.38 122.90 L357.19 122.90 L358.00 122.90 L358.81 122.90 L359.61 122.90 L360.42 122.90 L361.23 122.90 L362.04 122.90 L362.84 122.90 L363.65 122.90 L364.46 122.90 L365.27 122.90 L366.08 122.90 L366.88 122.90 L367.69 122.90 L368.50 122.90 L369.31 122.90 L370.12 122.90 L370.92 122.90 L371.73 122.90 L372.54 122.90 L373.35 122.90 L374.15 122.90 L374.96 122.90 L375.77 122.90 L376.58 122.90 L377.39 122.90 L378.19 122.90 L379.00 122.90 L379.81 122.90 L380.62 122.90 L381.42 122.90 L382.23 122.90 L383.04 122.90 L383.85 122.90 L384.66 122.90 L385.46 122.90 L386.24 122.90" stroke="#2ca02c"/></g><rect x="72.1" y="8.4" width="329.10" height="229.00" fill="none" stroke="#000" stroke-width="2.1" stroke-linejoin="miter"/><line x1="87.06" y1="237.4" x2="87.06" y2="245.6" stroke="#000" stroke-width="2.1"/><line x1="161.85" y1="237.4" x2="161.85" y2="245.6" stroke="#000" stroke-width="2.1"/><line x1="236.65" y1="237.4" x2="236.65" y2="245.6" stroke="#000" stroke-width="2.1"/><line x1="311.45" y1="237.4" x2="311.45" y2="245.6" stroke="#000" stroke-width="2.1"/><line x1="386.24" y1="237.4" x2="386.24" y2="245.6" stroke="#000" stroke-width="2.1"/><line x1="63.89999999999999" y1="18.81" x2="72.1" y2="18.81" stroke="#000" stroke-width="2.1"/><line x1="63.89999999999999" y1="70.85" x2="72.1" y2="70.85" stroke="#000" stroke-width="2.1"/><line x1="63.89999999999999" y1="122.90" x2="72.1" y2="122.90" stroke="#000" stroke-width="2.1"/><line x1="63.89999999999999" y1="174.95" x2="72.1" y2="174.95" stroke="#000" stroke-width="2.1"/><line x1="63.89999999999999" y1="226.99" x2="72.1" y2="226.99" stroke="#000" stroke-width="2.1"/><clipPath id="c1"><rect x="491.7" y="8.4" width="329.20" height="229.00"/></clipPath><g clip-path="url(#c1)" fill="none" stroke-width="3.6" stroke-linejoin="round" stroke-linecap="square"><path d="M506.66 122.90 L506.72 123.79 L506.78 124.68 L506.84 125.57 L506.90 126.45 L506.96 127.34 L507.02 128.23 L507.08 129.12 L507.14 130.00 L507.20 130.89 L507.26 131.77 L507.32 132.65 L507.38 133.53 L507.44 134.41 L507.50 135.29 L507.56 136.17 L507.62 137.04 L507.68 137.91 L507.74 138.78 L507.80 139.65 L507.86 140.52 L507.92 141.38 L507.98 142.24 L508.04 143.10 L508.10 143.95 L508.16 144.81 L508.22 145.65 L508.28 146.50 L508.34 147.34 L508.40 148.18 L508.46 149.02 L508.52 149.85 L508.58 150.68 L508.64 151.51 L508.70 152.33 L508.76 153.15 L508.82 153.97 L508.88 154.78 L508.94 155.58 L509.00 156.39 L509.06 157.18 L509.12 157.98 L509.18 158.77 L509.24 159.55 L509.30 160.33 L509.36 161.11 L509.42 161.88 L509.48 162.65 L509.54 163.41 L509.60 164.17 L509.66 164.92 L509.72 165.67 L509.78 166.41 L509.87 167.51 L509.96 168.60 L510.05 169.69 L510.14 170.75 L510.22 171.81 L510.31 172.86 L510.40 173.89 L510.49 174.91 L510.58 175.92 L510.67 176.92 L510.76 177.90 L510.85 178.87 L510.94 179.83 L511.03 180.78 L511.12 181.71 L511.21 182.63 L511.30 183.54 L511.39 184.44 L511.48 185.32 L511.57 186.19 L511.66 187.05 L511.75 187.90 L511.84 188.73 L511.93 189.55 L512.02 190.36 L512.11 191.15 L512.20 191.94 L512.29 192.71 L512.38 193.47 L512.47 194.22 L512.56 194.95 L512.65 195.68 L512.74 196.39 L512.86 197.32 L512.98 198.23 L513.10 199.12 L513.22 199.99 L513.34 200.84 L513.46 201.67 L513.58 202.49 L513.70 203.28 L513.82 204.05 L513.94 204.81 L514.06 205.55 L514.18 206.27 L514.30 206.97 L514.41 207.66 L514.56 208.49 L514.71 209.30 L514.86 210.09 L515.01 210.85 L515.16 211.58 L515.31 212.30 L515.46 212.99 L515.61 213.66 L515.79 214.43 L515.97 215.18 L516.15 215.90 L516.33 216.59 L516.51 217.25 L516.69 217.89 L516.90 218.60 L517.11 219.28 L517.32 219.93 L517.53 220.55 L517.74 221.15 L517.98 221.79 L518.22 222.40 L518.45 222.98 L518.72 223.60 L518.99 224.18 L519.26 224.73 L519.56 225.30 L519.86 225.84 L520.16 226.34 L520.49 226.85 L520.82 227.33 L521.18 227.82 L521.54 228.27 L521.93 228.71 L522.32 229.13 L522.73 229.53 L523.18 229.93 L523.63 230.30 L524.11 230.65 L524.62 230.99 L525.13 231.29 L525.67 231.58 L526.24 231.86 L526.80 232.10 L527.40 232.33 L528.00 232.54 L528.63 232.73 L529.29 232.91 L529.95 233.06 L530.64 233.21 L531.32 233.33 L532.01 233.45 L532.73 233.55 L533.45 233.64 L534.20 233.72 L534.94 233.79 L535.69 233.85 L536.44 233.90 L537.22 233.95 L538.00 233.99 L538.78 234.02 L539.55 234.04 L540.36 234.06 L541.17 234.07 L541.98 234.08 L542.79 234.08 L543.59 234.07 L544.40 234.06 L545.21 234.04 L545.99 234.02 L546.77 233.98 L547.54 233.94 L548.32 233.90 L549.07 233.84 L549.82 233.78 L550.57 233.71 L551.32 233.63 L552.03 233.54 L552.75 233.43 L553.44 233.32 L554.13 233.19 L554.82 233.04 L555.48 232.88 L556.10 232.71 L556.73 232.51 L557.33 232.30 L557.93 232.07 L558.50 231.82 L559.04 231.56 L559.58 231.26 L560.08 230.96 L560.59 230.61 L561.07 230.26 L561.52 229.89 L561.97 229.49 L562.39 229.08 L562.78 228.66 L563.17 228.21 L563.53 227.75 L563.88 227.26 L564.21 226.78 L564.54 226.26 L564.84 225.75 L565.14 225.21 L565.44 224.63 L565.71 224.08 L565.98 223.49 L566.25 222.87 L566.49 222.28 L566.73 221.67 L566.97 221.01 L567.18 220.41 L567.39 219.79 L567.60 219.13 L567.81 218.44 L568.01 217.72 L568.19 217.07 L568.37 216.40 L568.55 215.71 L568.73 214.98 L568.91 214.23 L569.06 213.58 L569.21 212.91 L569.36 212.21 L569.51 211.50 L569.66 210.76 L569.81 209.99 L569.96 209.21 L570.11 208.39 L570.26 207.56 L570.38 206.87 L570.50 206.16 L570.62 205.44 L570.74 204.70 L570.86 203.94 L570.98 203.16 L571.10 202.36 L571.22 201.55 L571.34 200.71 L571.46 199.86 L571.58 198.99 L571.70 198.09 L571.82 197.18 L571.94 196.25 L572.02 195.53 L572.11 194.80 L572.20 194.07 L572.29 193.32 L572.38 192.55 L572.47 191.78 L572.56 190.99 L572.65 190.20 L572.74 189.38 L572.83 188.56 L572.92 187.72 L573.01 186.88 L573.10 186.02 L573.19 185.14 L573.28 184.26 L573.37 183.36 L573.46 182.45 L573.55 181.52 L573.64 180.59 L573.73 179.64 L573.82 178.68 L573.91 177.70 L574.00 176.72 L574.09 175.72 L574.18 174.71 L574.27 173.68 L574.36 172.65 L574.45 171.60 L574.54 170.54 L574.63 169.47 L574.72 168.38 L574.81 167.29 L574.90 166.18 L574.96 165.44 L575.02 164.69 L575.08 163.94 L575.14 163.18 L575.20 162.41 L575.26 161.65 L575.32 160.87 L575.38 160.10 L575.44 159.31 L575.50 158.53 L575.56 157.74 L575.62 156.94 L575.68 156.14 L575.74 155.34 L575.80 154.53 L575.86 153.72 L575.92 152.90 L575.98 152.08 L576.04 151.26 L576.09 150.43 L576.15 149.60 L576.21 148.77 L576.27 147.93 L576.33 147.09 L576.39 146.24 L576.45 145.40 L576.51 144.55 L576.57 143.69 L576.63 142.84 L576.69 141.98 L576.75 141.12 L576.81 140.25 L576.87 139.39 L576.93 138.52 L576.99 137.65 L577.05 136.77 L577.11 135.90 L577.17 135.02 L577.23 134.14 L577.29 133.27 L577.35 132.38 L577.41 131.50 L577.47 130.62 L577.53 129.73 L577.59 128.85 L577.65 127.96 L577.71 127.07 L577.77 126.18 L577.83 125.30 L577.89 124.41 L577.95 123.52 L578.01 122.63 L578.07 121.74 L578.13 120.85 L578.19 119.96 L578.25 119.08 L578.31 118.19 L578.37 117.30 L578.43 116.41 L578.49 115.53 L578.55 114.64 L578.61 113.76 L578.67 112.88 L578.73 112.00 L578.79 111.12 L578.85 110.24 L578.91 109.37 L578.97 108.49 L579.03 107.62 L579.09 106.75 L579.15 105.89 L579.21 105.02 L579.27 104.16 L579.33 103.30 L579.39 102.44 L579.45 101.59 L579.51 100.74 L579.57 99.89 L579.63 99.04 L579.69 98.20 L579.75 97.36 L579.81 96.52 L579.87 95.69 L579.93 94.86 L579.99 94.04 L580.05 93.22 L580.11 92.40 L580.17 91.59 L580.22 90.78 L580.28 89.97 L580.34 89.17 L580.40 88.37 L580.46 87.58 L580.52 86.79 L580.58 86.01 L580.64 85.23 L580.70 84.46 L580.76 83.69 L580.82 82.92 L580.88 82.16 L580.94 81.40 L581.00 80.65 L581.06 79.91 L581.12 79.17 L581.21 78.07 L581.30 76.98 L581.39 75.90 L581.48 74.83 L581.57 73.77 L581.66 72.73 L581.75 71.70 L581.84 70.68 L581.93 69.68 L582.02 68.68 L582.11 67.70 L582.20 66.73 L582.29 65.78 L582.38 64.83 L582.47 63.90 L582.56 62.98 L582.65 62.08 L582.74 61.18 L582.83 60.30 L582.92 59.43 L583.01 58.58 L583.10 57.73 L583.19 56.90 L583.28 56.09 L583.37 55.28 L583.46 54.49 L583.55 53.70 L583.64 52.93 L583.73 52.18 L583.82 51.43 L583.91 50.70 L584.00 49.98 L584.12 49.03 L584.24 48.11 L584.35 47.21 L584.47 46.33 L584.59 45.46 L584.71 44.62 L584.83 43.80 L584.95 42.99 L585.07 42.21 L585.19 41.44 L585.31 40.69 L585.43 39.96 L585.55 39.25 L585.67 38.55 L585.82 37.70 L585.97 36.88 L586.12 36.09 L586.27 35.31 L586.42 34.57 L586.57 33.84 L586.72 33.14 L586.87 32.46 L587.02 31.80 L587.20 31.04 L587.38 30.31 L587.56 29.60 L587.74 28.92 L587.92 28.27 L588.10 27.64 L588.31 26.94 L588.51 26.27 L588.72 25.63 L588.93 25.02 L589.17 24.36 L589.41 23.73 L589.65 23.13 L589.89 22.56 L590.16 21.96 L590.43 21.39 L590.70 20.86 L591.00 20.30 L591.30 19.78 L591.63 19.24 L591.96 18.74 L592.32 18.24 L592.67 17.77 L593.06 17.30 L593.45 16.87 L593.87 16.45 L594.29 16.06 L594.74 15.68 L595.22 15.31 L595.70 14.98 L596.21 14.66 L596.74 14.35 L597.28 14.08 L597.85 13.82 L598.42 13.59 L599.02 13.37 L599.65 13.16 L600.28 12.98 L600.93 12.82 L601.59 12.67 L602.28 12.53 L602.97 12.41 L603.69 12.30 L604.41 12.21 L605.12 12.12 L605.87 12.04 L606.62 11.98 L607.37 11.92 L608.15 11.87 L608.93 11.83 L609.70 11.80 L610.48 11.77 L611.29 11.75 L612.10 11.73 L612.91 11.72 L613.71 11.72 L614.52 11.72 L615.33 11.73 L616.14 11.75 L616.95 11.77 L617.72 11.80 L618.50 11.84 L619.28 11.88 L620.06 11.93 L620.81 11.99 L621.55 12.06 L622.30 12.13 L623.02 12.22 L623.74 12.32 L624.46 12.43 L625.15 12.55 L625.83 12.69 L626.49 12.84 L627.15 13.02 L627.78 13.20 L628.41 13.41 L629.01 13.63 L629.57 13.87 L630.14 14.13 L630.68 14.41 L631.19 14.71 L631.70 15.03 L632.18 15.37 L632.66 15.75 L633.11 16.13 L633.53 16.53 L633.94 16.96 L634.33 17.40 L634.72 17.88 L635.08 18.35 L635.44 18.87 L635.77 19.38 L636.10 19.92 L636.40 20.46 L636.70 21.02 L636.97 21.57 L637.24 22.15 L637.51 22.76 L637.75 23.34 L637.98 23.95 L638.22 24.59 L638.46 25.26 L638.67 25.89 L638.88 26.54 L639.09 27.22 L639.30 27.93 L639.48 28.57 L639.66 29.24 L639.84 29.93 L640.02 30.65 L640.20 31.39 L640.38 32.17 L640.53 32.84 L640.68 33.53 L640.83 34.25 L640.98 34.99 L641.13 35.75 L641.28 36.53 L641.43 37.34 L641.58 38.18 L641.70 38.87 L641.82 39.57 L641.93 40.29 L642.05 41.03 L642.17 41.79 L642.29 42.56 L642.41 43.36 L642.53 44.17 L642.65 45.00 L642.77 45.86 L642.89 46.73 L643.01 47.62 L643.13 48.53 L643.25 49.46 L643.34 50.18 L643.43 50.90 L643.52 51.64 L643.61 52.38 L643.70 53.15 L643.79 53.92 L643.88 54.70 L643.97 55.50 L644.06 56.31 L644.15 57.13 L644.24 57.97 L644.33 58.81 L644.42 59.67 L644.51 60.54 L644.60 61.43 L644.69 62.32 L644.78 63.23 L644.87 64.16 L644.96 65.09 L645.05 66.04 L645.14 67.00 L645.23 67.97 L645.32 68.95 L645.41 69.95 L645.50 70.96 L645.59 71.98 L645.68 73.02 L645.77 74.06 L645.86 75.12 L645.95 76.19 L646.03 77.27 L646.12 78.37 L646.21 79.47 L646.27 80.21 L646.33 80.96 L646.39 81.72 L646.45 82.47 L646.51 83.24 L646.57 84.00 L646.63 84.77 L646.69 85.55 L646.75 86.33 L646.81 87.12 L646.87 87.91 L646.93 88.70 L646.99 89.50 L647.05 90.30 L647.11 91.11 L647.17 91.92 L647.23 92.74 L647.29 93.56 L647.35 94.38 L647.41 95.21 L647.47 96.04 L647.53 96.87 L647.59 97.71 L647.65 98.55 L647.71 99.39 L647.77 100.24 L647.83 101.09 L647.89 101.94 L647.95 102.80 L648.01 103.65 L648.07 104.51 L648.13 105.38 L648.19 106.24 L648.25 107.11 L648.31 107.98 L648.37 108.85 L648.43 109.73 L648.49 110.61 L648.55 111.48 L648.61 112.36 L648.67 113.24 L648.73 114.13 L648.79 115.01 L648.85 115.89 L648.91 116.78 L648.97 117.67 L649.03 118.55 L649.09 119.44 L649.15 120.33 L649.21 121.22 L649.27 122.11 L649.33 123.00 L649.39 123.89 L649.45 124.77 L649.51 125.66 L649.57 126.55 L649.63 127.44 L649.69 128.33 L649.75 129.21 L649.81 130.10 L649.87 130.98 L649.93 131.87 L649.99 132.75 L650.05 133.63 L650.11 134.51 L650.16 135.38 L650.22 136.26 L650.28 137.13 L650.34 138.01 L650.40 138.88 L650.46 139.74 L650.52 140.61 L650.58 141.47 L650.64 142.33 L650.70 143.19 L650.76 144.05 L650.82 144.90 L650.88 145.75 L650.94 146.59 L651.00 147.44 L651.06 148.28 L651.12 149.11 L651.18 149.94 L651.24 150.77 L651.30 151.60 L651.36 152.42 L651.42 153.24 L651.48 154.05 L651.54 154.86 L651.60 155.67 L651.66 156.47 L651.72 157.27 L651.78 158.06 L651.84 158.85 L651.90 159.64 L651.96 160.42 L652.02 161.19 L652.08 161.96 L652.14 162.73 L652.20 163.49 L652.26 164.25 L652.32 165.00 L652.38 165.75 L652.44 166.49 L652.53 167.59 L652.62 168.68 L652.71 169.76 L652.80 170.83 L652.89 171.89 L652.98 172.93 L653.07 173.96 L653.16 174.98 L653.25 175.99 L653.34 176.99 L653.43 177.97 L653.52 178.94 L653.61 179.90 L653.70 180.84 L653.79 181.78 L653.88 182.70 L653.97 183.61 L654.06 184.50 L654.15 185.38 L654.24 186.25 L654.32 187.11 L654.41 187.96 L654.50 188.79 L654.59 189.61 L654.68 190.42 L654.77 191.21 L654.86 191.99 L654.95 192.77 L655.04 193.52 L655.13 194.27 L655.22 195.01 L655.31 195.73 L655.40 196.44 L655.52 197.37 L655.64 198.28 L655.76 199.17 L655.88 200.04 L656.00 200.89 L656.12 201.72 L656.24 202.53 L656.36 203.32 L656.48 204.09 L656.60 204.85 L656.72 205.59 L656.84 206.31 L656.96 207.01 L657.08 207.70 L657.23 208.53 L657.38 209.34 L657.53 210.12 L657.68 210.88 L657.83 211.61 L657.98 212.33 L658.13 213.02 L658.28 213.69 L658.45 214.46 L658.63 215.21 L658.81 215.92 L658.99 216.61 L659.17 217.27 L659.35 217.91 L659.56 218.62 L659.77 219.30 L659.98 219.95 L660.19 220.57 L660.40 221.16 L660.64 221.81 L660.88 222.42 L661.12 223.00 L661.39 223.62 L661.66 224.20 L661.93 224.74 L662.23 225.31 L662.52 225.85 L662.85 226.40 L663.18 226.91 L663.51 227.38 L663.87 227.86 L664.23 228.31 L664.62 228.75 L665.04 229.19 L665.46 229.60 L665.91 229.99 L666.36 230.35 L666.83 230.69 L667.34 231.03 L667.85 231.33 L668.39 231.61 L668.96 231.89 L669.53 232.13 L670.13 232.35 L670.72 232.56 L671.35 232.75 L672.01 232.92 L672.67 233.08 L673.36 233.22 L674.05 233.35 L674.77 233.46 L675.48 233.56 L676.20 233.65 L676.95 233.73 L677.70 233.80 L678.45 233.86 L679.22 233.91 L680.00 233.96 L680.78 233.99 L681.56 234.02 L682.34 234.05 L683.14 234.06 L683.95 234.07 L684.76 234.08 L685.57 234.08 L686.38 234.07 L687.18 234.06 L687.99 234.04 L688.77 234.01 L689.55 233.98 L690.33 233.94 L691.11 233.89 L691.85 233.83 L692.60 233.77 L693.35 233.70 L694.10 233.61 L694.82 233.52 L695.53 233.41 L696.22 233.29 L696.91 233.16 L697.57 233.02 L698.23 232.85 L698.86 232.68 L699.49 232.48 L700.08 232.27 L700.68 232.03 L701.25 231.77 L701.79 231.51 L702.33 231.21 L702.84 230.89 L703.32 230.57 L703.79 230.21 L704.24 229.84 L704.69 229.43 L705.11 229.01 L705.50 228.59 L705.89 228.13 L706.25 227.67 L706.61 227.17 L706.94 226.68 L707.27 226.15 L707.57 225.64 L707.86 225.09 L708.16 224.50 L708.43 223.94 L708.70 223.34 L708.94 222.78 L709.18 222.19 L709.42 221.57 L709.66 220.91 L709.87 220.31 L710.08 219.67 L710.29 219.01 L710.50 218.32 L710.68 217.70 L710.86 217.05 L711.04 216.38 L711.22 215.68 L711.40 214.95 L711.58 214.20 L711.73 213.55 L711.87 212.88 L712.02 212.18 L712.17 211.46 L712.32 210.72 L712.47 209.96 L712.62 209.17 L712.77 208.36 L712.92 207.52 L713.04 206.83 L713.16 206.12 L713.28 205.40 L713.40 204.66 L713.52 203.90 L713.64 203.12 L713.76 202.32 L713.88 201.50 L714.00 200.67 L714.12 199.81 L714.24 198.94 L714.36 198.04 L714.48 197.13 L714.60 196.19 L714.69 195.48 L714.78 194.75 L714.87 194.01 L714.96 193.26 L715.05 192.50 L715.14 191.72 L715.23 190.94 L715.32 190.14 L715.41 189.33 L715.50 188.50 L715.59 187.66 L715.68 186.81 L715.77 185.95 L715.86 185.08 L715.95 184.19 L716.03 183.29 L716.12 182.38 L716.21 181.46 L716.30 180.52 L716.39 179.57 L716.48 178.61 L716.57 177.63 L716.66 176.64 L716.75 175.64 L716.84 174.63 L716.93 173.61 L717.02 172.57 L717.11 171.52 L717.20 170.46 L717.29 169.39 L717.38 168.31 L717.47 167.21 L717.56 166.10 L717.62 165.36 L717.68 164.61 L717.74 163.85 L717.80 163.10 L717.86 162.33 L717.92 161.56 L717.98 160.79 L718.04 160.01 L718.10 159.23 L718.16 158.44 L718.22 157.65 L718.28 156.86 L718.34 156.06 L718.40 155.25 L718.46 154.44 L718.52 153.63 L718.58 152.81 L718.64 151.99 L718.70 151.17 L718.76 150.34 L718.82 149.51 L718.88 148.68 L718.94 147.84 L719.00 147.00 L719.06 146.15 L719.12 145.31 L719.18 144.45 L719.24 143.60 L719.30 142.74 L719.36 141.89 L719.42 141.02 L719.48 140.16 L719.54 139.29 L719.60 138.42 L719.66 137.55 L719.72 136.68 L719.78 135.80 L719.84 134.93 L719.90 134.05 L719.96 133.17 L720.02 132.29 L720.08 131.41 L720.13 130.52 L720.19 129.64 L720.25 128.75 L720.31 127.86 L720.37 126.98 L720.43 126.09 L720.49 125.20 L720.55 124.31 L720.61 123.42 L720.67 122.53 L720.73 121.64 L720.79 120.76 L720.85 119.87 L720.91 118.98 L720.97 118.09 L721.03 117.20 L721.09 116.32 L721.15 115.43 L721.21 114.55 L721.27 113.67 L721.33 112.78 L721.39 111.90 L721.45 111.03 L721.51 110.15 L721.57 109.27 L721.63 108.40 L721.69 107.53 L721.75 106.66 L721.81 105.79 L721.87 104.93 L721.93 104.07 L721.99 103.21 L722.05 102.35 L722.11 101.50 L722.17 100.64 L722.23 99.80 L722.29 98.95 L722.35 98.11 L722.41 97.27 L722.47 96.43 L722.53 95.60 L722.59 94.77 L722.65 93.95 L722.71 93.13 L722.77 92.31 L722.83 91.50 L722.89 90.69 L722.95 89.89 L723.01 89.08 L723.07 88.29 L723.13 87.50 L723.19 86.71 L723.25 85.93 L723.31 85.15 L723.37 84.37 L723.43 83.60 L723.49 82.84 L723.55 82.08 L723.61 81.32 L723.67 80.57 L723.73 79.83 L723.79 79.09 L723.88 77.99 L723.97 76.90 L724.06 75.82 L724.15 74.75 L724.23 73.70 L724.32 72.66 L724.41 71.63 L724.50 70.61 L724.59 69.60 L724.68 68.61 L724.77 67.63 L724.86 66.66 L724.95 65.71 L725.04 64.76 L725.13 63.83 L725.22 62.92 L725.31 62.01 L725.40 61.12 L725.49 60.24 L725.58 59.37 L725.67 58.52 L725.76 57.67 L725.85 56.84 L725.94 56.03 L726.03 55.22 L726.12 54.43 L726.21 53.65 L726.30 52.88 L726.39 52.12 L726.48 51.38 L726.57 50.65 L726.66 49.93 L726.78 48.98 L726.90 48.06 L727.02 47.16 L727.14 46.28 L727.26 45.42 L727.38 44.58 L727.50 43.75 L727.62 42.95 L727.74 42.17 L727.86 41.40 L727.98 40.65 L728.10 39.92 L728.22 39.21 L728.33 38.51 L728.48 37.67 L728.63 36.85 L728.78 36.05 L728.93 35.28 L729.08 34.53 L729.23 33.81 L729.38 33.11 L729.53 32.43 L729.68 31.77 L729.86 31.01 L730.04 30.28 L730.22 29.58 L730.40 28.90 L730.58 28.25 L730.76 27.62 L730.97 26.92 L731.18 26.25 L731.39 25.61 L731.60 25.00 L731.84 24.34 L732.08 23.71 L732.32 23.12 L732.55 22.55 L732.82 21.95 L733.09 21.38 L733.36 20.85 L733.66 20.29 L733.96 19.77 L734.29 19.23 L734.62 18.73 L734.98 18.23 L735.34 17.76 L735.73 17.29 L736.12 16.87 L736.54 16.44 L736.95 16.05 L737.40 15.67 L737.88 15.30 L738.36 14.97 L738.87 14.65 L739.41 14.35 L739.95 14.07 L740.52 13.81 L741.08 13.58 L741.68 13.37 L742.31 13.16 L742.94 12.98 L743.60 12.81 L744.26 12.67 L744.94 12.53 L745.63 12.41 L746.35 12.30 L747.07 12.20 L747.79 12.12 L748.54 12.04 L749.28 11.98 L750.03 11.92 L750.81 11.87 L751.59 11.83 L752.37 11.80 L753.14 11.77 L753.95 11.75 L754.76 11.73 L755.57 11.72 L756.38 11.72 L757.18 11.72 L757.99 11.73 L758.80 11.75 L759.61 11.77 L760.39 11.80 L761.17 11.84 L761.94 11.88 L762.72 11.93 L763.47 11.99 L764.22 12.06 L764.97 12.13 L765.68 12.22 L766.40 12.32 L767.12 12.43 L767.81 12.55 L768.50 12.69 L769.16 12.85 L769.81 13.02 L770.44 13.20 L771.07 13.41 L771.67 13.63 L772.24 13.87 L772.81 14.14 L773.35 14.42 L773.85 14.71 L774.36 15.04 L774.84 15.38 L775.32 15.75 L775.77 16.14 L776.19 16.54 L776.61 16.97 L777.00 17.41 L777.39 17.88 L777.74 18.36 L778.07 18.83 L778.40 19.34 L778.73 19.88 L779.03 20.41 L779.33 20.98 L779.60 21.52 L779.87 22.10 L780.14 22.71 L780.38 23.28 L780.62 23.89 L780.86 24.52 L781.10 25.20 L781.31 25.82 L781.52 26.46 L781.73 27.14 L781.93 27.85 L782.11 28.49 L782.29 29.15 L782.47 29.84 L782.65 30.55 L782.83 31.30 L783.01 32.07 L783.16 32.73 L783.31 33.42 L783.46 34.13 L783.61 34.87 L783.76 35.63 L783.91 36.41 L784.06 37.21 L784.21 38.05 L784.33 38.73 L784.45 39.43 L784.57 40.15 L784.69 40.88 L784.81 41.64 L784.93 42.41 L785.05 43.20 L785.17 44.01 L785.29 44.84 L785.41 45.69 L785.53 46.55 L785.65 47.44 L785.77 48.35 L785.89 49.28 L786.00 50.23 L786.09 50.95 L786.18 51.69 L786.27 52.44 L786.36 53.20 L786.45 53.97 L786.54 54.76 L786.63 55.56 L786.72 56.37 L786.81 57.19 L786.90 58.03 L786.99 58.87 L787.08 59.73 L787.17 60.61 L787.26 61.49 L787.35 62.39 L787.44 63.30 L787.53 64.22 L787.62 65.16 L787.71 66.11 L787.80 67.07 L787.89 68.04 L787.98 69.03 L788.07 70.02 L788.16 71.03 L788.25 72.06 L788.34 73.09 L788.43 74.14 L788.52 75.20 L788.61 76.27 L788.70 77.35 L788.79 78.45 L788.88 79.55 L788.94 80.30 L789.00 81.04 L789.06 81.80 L789.12 82.56 L789.18 83.32 L789.24 84.09 L789.30 84.86 L789.36 85.64 L789.42 86.42 L789.48 87.20 L789.54 87.99 L789.60 88.79 L789.66 89.59 L789.72 90.39 L789.78 91.20 L789.84 92.01 L789.90 92.83 L789.96 93.64 L790.02 94.47 L790.07 95.29 L790.13 96.13 L790.19 96.96 L790.25 97.80 L790.31 98.64 L790.37 99.48 L790.43 100.33 L790.49 101.18 L790.55 102.03 L790.61 102.89 L790.67 103.75 L790.73 104.61 L790.79 105.47 L790.85 106.34 L790.91 107.21 L790.97 108.08 L791.03 108.95 L791.09 109.82 L791.15 110.70 L791.21 111.58 L791.27 112.46 L791.33 113.34 L791.39 114.22 L791.45 115.10 L791.51 115.99 L791.57 116.88 L791.63 117.76 L791.69 118.65 L791.75 119.54 L791.81 120.43 L791.87 121.31 L791.93 122.20 L791.99 123.09 L792.05 123.98 L792.11 124.87 L792.17 125.76 L792.23 126.65 L792.29 127.53 L792.35 128.42 L792.41 129.31 L792.47 130.19 L792.53 131.08 L792.59 131.96 L792.65 132.84 L792.71 133.72 L792.77 134.60 L792.83 135.48 L792.89 136.35 L792.95 137.23 L793.01 138.10 L793.07 138.97 L793.13 139.84 L793.19 140.70 L793.25 141.57 L793.31 142.43 L793.37 143.28 L793.43 144.14 L793.49 144.99 L793.55 145.84 L793.61 146.68 L793.67 147.53 L793.73 148.37 L793.79 149.20 L793.85 150.03 L793.91 150.86 L793.97 151.69 L794.03 152.51 L794.09 153.33 L794.15 154.14 L794.20 154.95 L794.26 155.76 L794.32 156.56 L794.38 157.36 L794.44 158.15 L794.50 158.94 L794.56 159.72 L794.62 160.50 L794.68 161.28 L794.74 162.05 L794.80 162.81 L794.86 163.57 L794.92 164.33 L794.98 165.08 L795.04 165.83 L795.10 166.57 L795.19 167.67 L795.28 168.76 L795.37 169.84 L795.46 170.91 L795.55 171.96 L795.64 173.01 L795.73 174.04 L795.82 175.06 L795.91 176.06 L796.00 177.06 L796.09 178.04 L796.18 179.01 L796.27 179.97 L796.36 180.91 L796.45 181.84 L796.54 182.76 L796.63 183.67 L796.72 184.57 L796.81 185.45 L796.90 186.32 L796.99 187.17 L797.08 188.02 L797.17 188.85 L797.26 189.67 L797.35 190.47 L797.44 191.27 L797.53 192.05 L797.62 192.82 L797.71 193.58 L797.80 194.32 L797.89 195.06 L797.98 195.78 L798.07 196.49 L798.19 197.42 L798.30 198.33 L798.42 199.22 L798.54 200.08 L798.66 200.93 L798.78 201.76 L798.90 202.57 L799.02 203.36 L799.14 204.14 L799.26 204.89 L799.38 205.63 L799.50 206.35 L799.62 207.05 L799.74 207.73 L799.89 208.56 L800.04 209.37 L800.19 210.15 L800.34 210.91 L800.49 211.65 L800.64 212.36 L800.79 213.05 L800.94 213.71 L801.12 214.49 L801.30 215.23 L801.48 215.95 L801.66 216.64 L801.84 217.30 L802.02 217.93 L802.23 218.64 L802.43 219.32 L802.64 219.97 L802.85 220.59 L803.06 221.18 L803.30 221.83 L803.54 222.44 L803.78 223.01 L804.05 223.63 L804.32 224.21 L804.59 224.76 L804.89 225.33 L805.19 225.86 L805.52 226.41 L805.85 226.92 L805.94 227.05" stroke="#1f77b4"/><path d="M506.66 122.90 L506.72 123.80 L506.78 124.69 L506.84 125.59 L506.90 126.48 L506.96 127.37 L507.02 128.25 L507.08 129.14 L507.14 130.02 L507.20 130.89 L507.26 131.77 L507.32 132.64 L507.38 133.51 L507.44 134.38 L507.50 135.24 L507.56 136.10 L507.62 136.96 L507.68 137.81 L507.74 138.66 L507.80 139.50 L507.86 140.35 L507.92 141.18 L507.98 142.02 L508.04 142.84 L508.10 143.67 L508.16 144.49 L508.22 145.31 L508.28 146.12 L508.34 146.93 L508.40 147.73 L508.46 148.53 L508.52 149.32 L508.58 150.11 L508.64 150.89 L508.70 151.67 L508.76 152.45 L508.82 153.22 L508.88 153.98 L508.94 154.74 L509.00 155.49 L509.06 156.24 L509.12 156.98 L509.21 158.09 L509.30 159.18 L509.39 160.26 L509.48 161.33 L509.57 162.39 L509.66 163.44 L509.75 164.47 L509.84 165.49 L509.93 166.50 L510.02 167.49 L510.11 168.47 L510.20 169.44 L510.28 170.40 L510.37 171.35 L510.46 172.28 L510.55 173.20 L510.64 174.10 L510.73 175.00 L510.82 175.88 L510.91 176.75 L511.00 177.61 L511.09 178.45 L511.18 179.29 L511.27 180.11 L511.36 180.92 L511.45 181.71 L511.54 182.50 L511.63 183.27 L511.72 184.03 L511.81 184.78 L511.90 185.52 L511.99 186.24 L512.08 186.96 L512.20 187.89 L512.32 188.81 L512.44 189.71 L512.56 190.58 L512.68 191.44 L512.80 192.28 L512.92 193.10 L513.04 193.91 L513.16 194.69 L513.28 195.46 L513.40 196.21 L513.52 196.95 L513.64 197.66 L513.76 198.36 L513.88 199.05 L514.03 199.88 L514.18 200.69 L514.33 201.48 L514.47 202.25 L514.62 202.99 L514.77 203.71 L514.92 204.41 L515.07 205.09 L515.22 205.75 L515.40 206.52 L515.58 207.26 L515.76 207.98 L515.94 208.67 L516.12 209.33 L516.30 209.97 L516.51 210.69 L516.72 211.38 L516.93 212.05 L517.14 212.68 L517.35 213.29 L517.59 213.96 L517.83 214.59 L518.07 215.20 L518.31 215.77 L518.57 216.39 L518.84 216.98 L519.11 217.53 L519.41 218.11 L519.71 218.66 L520.01 219.18 L520.34 219.72 L520.67 220.22 L521.03 220.73 L521.39 221.20 L521.75 221.64 L522.14 222.09 L522.53 222.50 L522.94 222.91 L523.39 223.31 L523.84 223.67 L524.32 224.03 L524.83 224.37 L525.34 224.67 L525.88 224.95 L526.45 225.21 L527.04 225.45 L527.67 225.66 L528.30 225.83 L528.96 225.98 L529.65 226.09 L530.40 226.17 L531.17 226.21 L531.98 226.21 L532.76 226.16 L533.51 226.07 L534.20 225.96 L534.89 225.82 L535.54 225.65 L536.17 225.45 L536.77 225.24 L537.37 225.00 L537.94 224.75 L538.48 224.48 L539.02 224.19 L539.52 223.89 L540.03 223.57 L540.51 223.24 L540.99 222.88 L541.44 222.53 L541.89 222.15 L542.34 221.74 L542.76 221.34 L543.17 220.92 L543.56 220.50 L543.95 220.07 L544.34 219.60 L544.70 219.16 L545.06 218.69 L545.42 218.20 L545.78 217.69 L546.11 217.20 L546.44 216.68 L546.77 216.15 L547.07 215.65 L547.36 215.12 L547.66 214.58 L547.96 214.02 L548.26 213.44 L548.53 212.89 L548.80 212.33 L549.07 211.75 L549.34 211.16 L549.61 210.54 L549.85 209.98 L550.09 209.40 L550.33 208.80 L550.57 208.19 L550.81 207.56 L551.05 206.92 L551.29 206.26 L551.49 205.66 L551.70 205.06 L551.91 204.44 L552.12 203.80 L552.33 203.15 L552.54 202.49 L552.75 201.81 L552.96 201.12 L553.17 200.41 L553.38 199.69 L553.56 199.06 L553.74 198.41 L553.92 197.76 L554.10 197.10 L554.28 196.42 L554.46 195.73 L554.64 195.03 L554.82 194.32 L555.00 193.60 L555.18 192.86 L555.36 192.12 L555.53 191.36 L555.71 190.59 L555.89 189.81 L556.04 189.15 L556.19 188.48 L556.34 187.81 L556.49 187.12 L556.64 186.43 L556.79 185.73 L556.94 185.02 L557.09 184.31 L557.24 183.58 L557.39 182.85 L557.54 182.11 L557.69 181.37 L557.84 180.61 L557.99 179.85 L558.14 179.08 L558.29 178.30 L558.44 177.52 L558.59 176.72 L558.74 175.92 L558.89 175.12 L559.04 174.30 L559.19 173.48 L559.34 172.66 L559.49 171.82 L559.63 170.98 L559.78 170.14 L559.90 169.45 L560.02 168.77 L560.14 168.08 L560.26 167.39 L560.38 166.69 L560.50 165.99 L560.62 165.28 L560.74 164.58 L560.86 163.87 L560.98 163.15 L561.10 162.44 L561.22 161.72 L561.34 160.99 L561.46 160.27 L561.58 159.54 L561.70 158.81 L561.82 158.07 L561.94 157.34 L562.06 156.60 L562.18 155.86 L562.30 155.11 L562.42 154.37 L562.54 153.62 L562.66 152.87 L562.78 152.12 L562.90 151.37 L563.02 150.62 L563.14 149.86 L563.26 149.11 L563.38 148.35 L563.50 147.59 L563.62 146.83 L563.73 146.08 L563.85 145.32 L563.97 144.56 L564.09 143.79 L564.21 143.03 L564.33 142.27 L564.45 141.51 L564.57 140.75 L564.69 139.99 L564.81 139.23 L564.93 138.47 L565.05 137.71 L565.17 136.95 L565.29 136.19 L565.41 135.44 L565.53 134.68 L565.65 133.93 L565.77 133.17 L565.89 132.42 L566.01 131.67 L566.13 130.92 L566.25 130.18 L566.37 129.43 L566.49 128.69 L566.61 127.95 L566.73 127.21 L566.85 126.47 L566.97 125.74 L567.09 125.01 L567.21 124.28 L567.33 123.55 L567.45 122.83 L567.57 122.11 L567.69 121.39 L567.81 120.68 L567.92 119.97 L568.04 119.26 L568.16 118.55 L568.28 117.85 L568.40 117.15 L568.52 116.46 L568.64 115.77 L568.76 115.08 L568.88 114.40 L569.03 113.55 L569.18 112.71 L569.33 111.88 L569.48 111.05 L569.63 110.22 L569.78 109.41 L569.93 108.60 L570.08 107.80 L570.23 107.00 L570.38 106.22 L570.53 105.44 L570.68 104.66 L570.83 103.90 L570.98 103.14 L571.13 102.39 L571.28 101.64 L571.43 100.91 L571.58 100.18 L571.73 99.46 L571.88 98.75 L572.02 98.04 L572.17 97.35 L572.32 96.66 L572.47 95.98 L572.62 95.31 L572.77 94.64 L572.92 93.98 L573.10 93.21 L573.28 92.44 L573.46 91.69 L573.64 90.95 L573.82 90.21 L574.00 89.50 L574.18 88.79 L574.36 88.09 L574.54 87.41 L574.72 86.74 L574.90 86.07 L575.08 85.42 L575.26 84.79 L575.44 84.16 L575.65 83.44 L575.86 82.74 L576.06 82.05 L576.27 81.38 L576.48 80.73 L576.69 80.09 L576.90 79.46 L577.11 78.85 L577.32 78.25 L577.56 77.58 L577.80 76.94 L578.04 76.31 L578.28 75.70 L578.52 75.11 L578.76 74.54 L579.03 73.91 L579.30 73.31 L579.57 72.73 L579.84 72.17 L580.11 71.63 L580.40 71.06 L580.70 70.51 L581.00 69.98 L581.33 69.44 L581.66 68.92 L581.99 68.43 L582.35 67.92 L582.71 67.45 L583.10 66.98 L583.49 66.54 L583.91 66.11 L584.32 65.72 L584.77 65.35 L585.25 65.00 L585.76 64.69 L586.30 64.41 L586.90 64.18 L587.56 64.01 L588.28 63.92 L589.08 63.93 L589.80 64.05 L590.43 64.23 L591.03 64.47 L591.57 64.74 L592.08 65.04 L592.55 65.36 L593.03 65.73 L593.48 66.10 L593.90 66.49 L594.32 66.90 L594.74 67.34 L595.13 67.77 L595.52 68.23 L595.88 68.68 L596.24 69.15 L596.60 69.63 L596.95 70.14 L597.28 70.62 L597.61 71.13 L597.94 71.64 L598.27 72.18 L598.60 72.73 L598.90 73.24 L599.20 73.77 L599.50 74.31 L599.80 74.87 L600.10 75.44 L600.40 76.02 L600.67 76.55 L600.93 77.09 L601.20 77.65 L601.47 78.21 L601.74 78.78 L602.01 79.37 L602.28 79.96 L602.55 80.56 L602.82 81.17 L603.09 81.79 L603.36 82.42 L603.60 82.99 L603.84 83.56 L604.08 84.14 L604.32 84.73 L604.56 85.32 L604.80 85.92 L605.03 86.52 L605.27 87.13 L605.51 87.75 L605.75 88.37 L605.99 89.00 L606.23 89.63 L606.47 90.27 L606.71 90.91 L606.95 91.56 L607.19 92.21 L607.43 92.86 L607.67 93.52 L607.91 94.19 L608.15 94.86 L608.39 95.53 L608.63 96.20 L608.84 96.79 L609.04 97.39 L609.25 97.98 L609.46 98.58 L609.67 99.18 L609.88 99.79 L610.09 100.39 L610.30 100.99 L610.51 101.60 L610.72 102.21 L610.93 102.82 L611.14 103.42 L611.35 104.03 L611.56 104.64 L611.77 105.25 L611.98 105.86 L612.19 106.48 L612.40 107.09 L612.61 107.70 L612.82 108.31 L613.03 108.91 L613.23 109.52 L613.44 110.13 L613.65 110.74 L613.86 111.34 L614.07 111.95 L614.28 112.55 L614.49 113.15 L614.70 113.75 L614.91 114.35 L615.12 114.94 L615.33 115.54 L615.54 116.13 L615.78 116.80 L616.02 117.47 L616.26 118.13 L616.50 118.79 L616.74 119.45 L616.98 120.11 L617.21 120.75 L617.45 121.40 L617.69 122.04 L617.93 122.67 L618.17 123.31 L618.41 123.93 L618.65 124.55 L618.89 125.16 L619.13 125.77 L619.37 126.38 L619.61 126.97 L619.85 127.56 L620.09 128.15 L620.33 128.73 L620.57 129.30 L620.81 129.87 L621.08 130.49 L621.34 131.11 L621.61 131.73 L621.88 132.33 L622.15 132.92 L622.42 133.51 L622.69 134.08 L622.96 134.65 L623.23 135.20 L623.50 135.75 L623.77 136.29 L624.07 136.87 L624.37 137.45 L624.67 138.01 L624.97 138.56 L625.27 139.10 L625.56 139.62 L625.86 140.13 L626.19 140.68 L626.52 141.22 L626.85 141.73 L627.18 142.24 L627.51 142.73 L627.84 143.20 L628.20 143.70 L628.56 144.18 L628.92 144.64 L629.28 145.08 L629.66 145.54 L630.05 145.98 L630.44 146.40 L630.86 146.82 L631.28 147.22 L631.73 147.63 L632.18 148.00 L632.66 148.37 L633.14 148.71 L633.65 149.04 L634.15 149.33 L634.69 149.61 L635.26 149.85 L635.86 150.07 L636.49 150.25 L637.18 150.39 L637.89 150.47 L638.67 150.49 L639.45 150.45 L640.17 150.34 L640.83 150.20 L641.46 150.02 L642.05 149.81 L642.62 149.57 L643.19 149.31 L643.73 149.03 L644.27 148.72 L644.78 148.41 L645.29 148.07 L645.77 147.73 L646.24 147.38 L646.69 147.02 L647.14 146.66 L647.59 146.27 L648.04 145.88 L648.46 145.49 L648.88 145.10 L649.30 144.69 L649.72 144.27 L650.13 143.84 L650.55 143.40 L650.94 142.98 L651.33 142.56 L651.72 142.12 L652.11 141.68 L652.50 141.23 L652.89 140.78 L653.28 140.32 L653.67 139.85 L654.06 139.37 L654.41 138.93 L654.77 138.49 L655.13 138.04 L655.49 137.58 L655.85 137.13 L656.21 136.67 L656.57 136.20 L656.93 135.74 L657.29 135.27 L657.65 134.80 L658.01 134.33 L658.36 133.86 L658.72 133.39 L659.08 132.91 L659.44 132.44 L659.80 131.96 L660.16 131.49 L660.52 131.02 L660.88 130.54 L661.24 130.07 L661.60 129.60 L661.96 129.13 L662.32 128.66 L662.67 128.20 L663.03 127.74 L663.39 127.28 L663.75 126.82 L664.11 126.37 L664.47 125.91 L664.83 125.47 L665.19 125.02 L665.58 124.55 L665.97 124.08 L666.36 123.61 L666.74 123.15 L667.13 122.70 L667.52 122.25 L667.91 121.81 L668.30 121.37 L668.69 120.94 L669.08 120.52 L669.47 120.10 L669.89 119.67 L670.31 119.24 L670.72 118.81 L671.14 118.40 L671.56 118.00 L671.98 117.61 L672.40 117.22 L672.85 116.82 L673.30 116.44 L673.75 116.06 L674.20 115.69 L674.65 115.34 L675.12 114.98 L675.60 114.63 L676.08 114.29 L676.59 113.95 L677.10 113.63 L677.61 113.32 L678.12 113.03 L678.66 112.74 L679.19 112.47 L679.76 112.20 L680.33 111.95 L680.93 111.71 L681.53 111.49 L682.16 111.29 L682.79 111.11 L683.44 110.95 L684.13 110.81 L684.82 110.69 L685.54 110.60 L686.29 110.54 L687.07 110.51 L687.87 110.52 L688.65 110.56 L689.40 110.62 L690.12 110.71 L690.84 110.83 L691.52 110.96 L692.18 111.11 L692.84 111.28 L693.47 111.46 L694.10 111.65 L694.73 111.86 L695.33 112.07 L695.92 112.29 L696.52 112.53 L697.09 112.77 L697.66 113.01 L698.23 113.27 L698.80 113.54 L699.37 113.81 L699.90 114.08 L700.44 114.35 L700.98 114.63 L701.52 114.91 L702.06 115.20 L702.60 115.50 L703.14 115.80 L703.67 116.10 L704.21 116.40 L704.72 116.70 L705.23 116.99 L705.74 117.29 L706.25 117.58 L706.76 117.88 L707.27 118.18 L707.77 118.48 L708.28 118.78 L708.79 119.08 L709.30 119.38 L709.81 119.68 L710.32 119.98 L710.83 120.27 L711.34 120.56 L711.87 120.87 L712.41 121.18 L712.95 121.48 L713.49 121.78 L714.03 122.07 L714.57 122.36 L715.11 122.65 L715.65 122.93 L716.18 123.21 L716.72 123.48 L717.26 123.74 L717.83 124.02 L718.40 124.28 L718.97 124.54 L719.54 124.80 L720.10 125.04 L720.67 125.28 L721.27 125.52 L721.87 125.75 L722.47 125.98 L723.07 126.19 L723.67 126.39 L724.29 126.60 L724.92 126.79 L725.55 126.97 L726.18 127.15 L726.84 127.32 L727.50 127.47 L728.16 127.62 L728.84 127.75 L729.53 127.88 L730.25 127.99 L730.97 128.09 L731.69 128.18 L732.43 128.26 L733.18 128.32 L733.96 128.37 L734.74 128.40 L735.55 128.41 L736.36 128.41 L737.16 128.40 L737.94 128.37 L738.72 128.33 L739.47 128.27 L740.22 128.20 L740.96 128.13 L741.68 128.04 L742.40 127.95 L743.12 127.84 L743.84 127.73 L744.53 127.62 L745.21 127.49 L745.90 127.36 L746.59 127.23 L747.28 127.09 L747.97 126.94 L748.63 126.79 L749.28 126.64 L749.94 126.49 L750.60 126.33 L751.26 126.17 L751.92 126.01 L752.58 125.84 L753.23 125.67 L753.89 125.50 L754.55 125.33 L755.21 125.16 L755.87 124.99 L756.53 124.81 L757.18 124.64 L757.84 124.47 L758.50 124.30 L759.16 124.13 L759.82 123.96 L760.48 123.79 L761.14 123.63 L761.79 123.46 L762.45 123.30 L763.11 123.14 L763.77 122.99 L764.43 122.84 L765.09 122.69 L765.74 122.54 L766.43 122.40 L767.12 122.25 L767.81 122.12 L768.50 121.98 L769.19 121.85 L769.87 121.73 L770.56 121.61 L771.25 121.50 L771.97 121.39 L772.69 121.28 L773.41 121.18 L774.12 121.09 L774.84 121.00 L775.59 120.92 L776.34 120.84 L777.09 120.77 L777.83 120.71 L778.58 120.65 L779.36 120.60 L780.14 120.56 L780.92 120.52 L781.70 120.49 L782.50 120.47 L783.31 120.46 L784.12 120.45 L784.93 120.45 L785.74 120.46 L786.54 120.47 L787.35 120.49 L788.13 120.52 L788.91 120.55 L789.69 120.58 L790.46 120.63 L791.24 120.67 L792.02 120.73 L792.77 120.78 L793.52 120.84 L794.26 120.90 L795.01 120.96 L795.76 121.03 L796.51 121.10 L797.26 121.18 L798.01 121.25 L798.75 121.33 L799.50 121.41 L800.25 121.49 L801.00 121.58 L801.75 121.66 L802.46 121.75 L803.18 121.83 L803.90 121.91 L804.62 122.00 L805.34 122.08 L805.94 122.15" stroke="#ff7f0e"/><path d="M506.66 122.90 L506.69 127.37 L506.72 131.77 L506.75 136.11 L506.78 140.36 L506.81 144.52 L506.84 148.58 L506.87 152.53 L506.90 156.36 L506.93 160.07 L506.96 163.65 L506.99 167.11 L507.02 170.43 L507.05 173.63 L507.08 176.69 L507.11 179.62 L507.14 182.42 L507.17 185.09 L507.20 187.64 L507.23 190.07 L507.26 192.38 L507.29 194.57 L507.32 196.65 L507.35 198.63 L507.38 200.50 L507.41 202.28 L507.44 203.96 L507.47 205.55 L507.50 207.06 L507.53 208.48 L507.56 209.83 L507.59 211.10 L507.62 212.30 L507.65 213.44 L507.68 214.51 L507.71 215.53 L507.74 216.49 L507.77 217.40 L507.80 218.25 L507.83 219.06 L507.89 220.55 L507.95 221.88 L508.01 223.07 L508.07 224.14 L508.13 225.09 L508.19 225.95 L508.25 226.72 L508.34 227.73 L508.43 228.59 L508.52 229.33 L508.64 230.16 L508.76 230.85 L508.91 231.54 L509.09 232.18 L509.33 232.82 L509.63 233.37 L510.02 233.84 L510.49 234.18 L511.06 234.42 L511.72 234.57 L512.44 234.66 L513.22 234.70 L514.03 234.71 L514.83 234.70 L515.61 234.67 L516.39 234.61 L517.14 234.54 L517.86 234.46 L518.57 234.35 L519.26 234.22 L519.92 234.07 L520.58 233.89 L521.21 233.69 L521.81 233.46 L522.38 233.20 L522.91 232.92 L523.42 232.62 L523.90 232.30 L524.38 231.94 L524.83 231.55 L525.25 231.15 L525.67 230.71 L526.06 230.25 L526.42 229.79 L526.77 229.29 L527.10 228.79 L527.43 228.25 L527.73 227.72 L528.03 227.15 L528.30 226.61 L528.57 226.03 L528.84 225.41 L529.08 224.84 L529.32 224.23 L529.56 223.59 L529.80 222.91 L530.01 222.30 L530.22 221.65 L530.43 220.98 L530.64 220.28 L530.81 219.66 L530.99 219.01 L531.17 218.34 L531.35 217.65 L531.53 216.94 L531.71 216.21 L531.89 215.45 L532.04 214.79 L532.19 214.13 L532.34 213.44 L532.49 212.74 L532.64 212.02 L532.79 211.29 L532.94 210.54 L533.09 209.77 L533.24 208.99 L533.39 208.18 L533.54 207.37 L533.69 206.53 L533.84 205.68 L533.96 204.99 L534.08 204.29 L534.20 203.57 L534.32 202.85 L534.44 202.12 L534.56 201.38 L534.68 200.63 L534.80 199.87 L534.91 199.10 L535.03 198.32 L535.15 197.53 L535.27 196.74 L535.39 195.94 L535.51 195.12 L535.63 194.31 L535.75 193.48 L535.87 192.65 L535.99 191.81 L536.11 190.97 L536.23 190.11 L536.35 189.26 L536.47 188.40 L536.59 187.53 L536.71 186.66 L536.83 185.78 L536.95 184.91 L537.07 184.02 L537.19 183.14 L537.31 182.25 L537.43 181.36 L537.55 180.47 L537.67 179.58 L537.79 178.68 L537.91 177.79 L538.03 176.89 L538.15 176.00 L538.27 175.11 L538.39 174.21 L538.51 173.32 L538.63 172.43 L538.75 171.55 L538.87 170.66 L538.99 169.78 L539.10 168.90 L539.22 168.03 L539.34 167.16 L539.46 166.30 L539.58 165.44 L539.70 164.58 L539.82 163.73 L539.94 162.89 L540.06 162.05 L540.18 161.22 L540.30 160.40 L540.42 159.58 L540.54 158.77 L540.66 157.97 L540.78 157.17 L540.90 156.38 L541.02 155.61 L541.14 154.84 L541.26 154.07 L541.38 153.32 L541.50 152.58 L541.62 151.84 L541.74 151.12 L541.86 150.40 L541.98 149.70 L542.10 149.00 L542.22 148.31 L542.37 147.47 L542.52 146.64 L542.67 145.82 L542.82 145.03 L542.97 144.24 L543.12 143.48 L543.26 142.73 L543.41 142.00 L543.56 141.28 L543.71 140.58 L543.86 139.89 L544.01 139.22 L544.16 138.57 L544.34 137.81 L544.52 137.07 L544.70 136.35 L544.88 135.65 L545.06 134.98 L545.24 134.33 L545.42 133.70 L545.63 132.99 L545.84 132.31 L546.05 131.65 L546.26 131.03 L546.47 130.43 L546.71 129.77 L546.95 129.15 L547.19 128.56 L547.45 127.94 L547.72 127.35 L547.99 126.80 L548.29 126.23 L548.59 125.70 L548.92 125.17 L549.25 124.68 L549.61 124.19 L550.00 123.72 L550.39 123.30 L550.81 122.90 L551.26 122.53 L551.73 122.19 L552.24 121.90 L552.81 121.64 L553.41 121.43 L554.07 121.27 L554.79 121.16 L555.56 121.11 L556.37 121.11 L557.15 121.16 L557.90 121.23 L558.62 121.32 L559.34 121.43 L560.05 121.54 L560.77 121.65 L561.49 121.77 L562.21 121.88 L562.93 121.99 L563.65 122.10 L564.36 122.20 L565.08 122.29 L565.80 122.38 L566.55 122.46 L567.30 122.53 L568.04 122.60 L568.79 122.65 L569.57 122.70 L570.35 122.75 L571.13 122.79 L571.91 122.82 L572.68 122.85 L573.49 122.87 L574.30 122.89 L575.11 122.90 L575.92 122.91 L576.72 122.92 L577.53 122.92 L578.34 122.93 L579.15 122.93 L579.96 122.93 L580.76 122.93 L581.57 122.93 L582.38 122.93 L583.19 122.93 L584.00 122.92 L584.80 122.92 L585.61 122.92 L586.42 122.92 L587.23 122.92 L588.04 122.91 L588.84 122.91 L589.65 122.91 L590.46 122.91 L591.27 122.91 L592.08 122.91 L592.88 122.90 L593.69 122.90 L594.50 122.90 L595.31 122.90 L596.12 122.90 L596.92 122.90 L597.73 122.90 L598.54 122.90 L599.35 122.90 L600.16 122.90 L600.96 122.90 L601.77 122.90 L602.58 122.90 L603.39 122.90 L604.20 122.90 L605.00 122.90 L605.81 122.90 L606.62 122.90 L607.43 122.90 L608.24 122.90 L609.04 122.90 L609.85 122.90 L610.66 122.90 L611.47 122.90 L612.28 122.90 L613.09 122.90 L613.89 122.90 L614.70 122.90 L615.51 122.90 L616.32 122.90 L617.13 122.90 L617.93 122.90 L618.74 122.90 L619.55 122.90 L620.36 122.90 L621.17 122.90 L621.97 122.90 L622.78 122.90 L623.59 122.90 L624.40 122.90 L625.21 122.90 L626.01 122.90 L626.82 122.90 L627.63 122.90 L628.44 122.90 L629.25 122.90 L630.05 122.90 L630.86 122.90 L631.67 122.90 L632.48 122.90 L633.29 122.90 L634.09 122.90 L634.90 122.90 L635.71 122.90 L636.52 122.90 L637.33 122.90 L638.13 122.90 L638.94 122.90 L639.75 122.90 L640.56 122.90 L641.37 122.90 L642.17 122.90 L642.98 122.90 L643.79 122.90 L644.60 122.90 L645.41 122.90 L646.21 122.90 L647.02 122.90 L647.83 122.90 L648.64 122.90 L649.45 122.90 L650.25 122.90 L651.06 122.90 L651.87 122.90 L652.68 122.90 L653.49 122.90 L654.29 122.90 L655.10 122.90 L655.91 122.90 L656.72 122.90 L657.53 122.90 L658.34 122.90 L659.14 122.90 L659.95 122.90 L660.76 122.90 L661.57 122.90 L662.38 122.90 L663.18 122.90 L663.99 122.90 L664.80 122.90 L665.61 122.90 L666.42 122.90 L667.22 122.90 L668.03 122.90 L668.84 122.90 L669.65 122.90 L670.46 122.90 L671.26 122.90 L672.07 122.90 L672.88 122.90 L673.69 122.90 L674.50 122.90 L675.30 122.90 L676.11 122.90 L676.92 122.90 L677.73 122.90 L678.54 122.90 L679.34 122.90 L680.15 122.90 L680.96 122.90 L681.77 122.90 L682.58 122.90 L683.38 122.90 L684.19 122.90 L685.00 122.90 L685.81 122.90 L686.62 122.90 L687.42 122.90 L688.23 122.90 L689.04 122.90 L689.85 122.90 L690.66 122.90 L691.46 122.90 L692.27 122.90 L693.08 122.90 L693.89 122.90 L694.70 122.90 L695.50 122.90 L696.31 122.90 L697.12 122.90 L697.93 122.90 L698.74 122.90 L699.54 122.90 L700.35 122.90 L701.16 122.90 L701.97 122.90 L702.78 122.90 L703.59 122.90 L704.39 122.90 L705.20 122.90 L706.01 122.90 L706.82 122.90 L707.63 122.90 L708.43 122.90 L709.24 122.90 L710.05 122.90 L710.86 122.90 L711.67 122.90 L712.47 122.90 L713.28 122.90 L714.09 122.90 L714.90 122.90 L715.71 122.90 L716.51 122.90 L717.32 122.90 L718.13 122.90 L718.94 122.90 L719.75 122.90 L720.55 122.90 L721.36 122.90 L722.17 122.90 L722.98 122.90 L723.79 122.90 L724.59 122.90 L725.40 122.90 L726.21 122.90 L727.02 122.90 L727.83 122.90 L728.63 122.90 L729.44 122.90 L730.25 122.90 L731.06 122.90 L731.87 122.90 L732.67 122.90 L733.48 122.90 L734.29 122.90 L735.10 122.90 L735.91 122.90 L736.71 122.90 L737.52 122.90 L738.33 122.90 L739.14 122.90 L739.95 122.90 L740.75 122.90 L741.56 122.90 L742.37 122.90 L743.18 122.90 L743.99 122.90 L744.79 122.90 L745.60 122.90 L746.41 122.90 L747.22 122.90 L748.03 122.90 L748.84 122.90 L749.64 122.90 L750.45 122.90 L751.26 122.90 L752.07 122.90 L752.88 122.90 L753.68 122.90 L754.49 122.90 L755.30 122.90 L756.11 122.90 L756.92 122.90 L757.72 122.90 L758.53 122.90 L759.34 122.90 L760.15 122.90 L760.96 122.90 L761.76 122.90 L762.57 122.90 L763.38 122.90 L764.19 122.90 L765.00 122.90 L765.80 122.90 L766.61 122.90 L767.42 122.90 L768.23 122.90 L769.04 122.90 L769.84 122.90 L770.65 122.90 L771.46 122.90 L772.27 122.90 L773.08 122.90 L773.88 122.90 L774.69 122.90 L775.50 122.90 L776.31 122.90 L777.12 122.90 L777.92 122.90 L778.73 122.90 L779.54 122.90 L780.35 122.90 L781.16 122.90 L781.96 122.90 L782.77 122.90 L783.58 122.90 L784.39 122.90 L785.20 122.90 L786.00 122.90 L786.81 122.90 L787.62 122.90 L788.43 122.90 L789.24 122.90 L790.04 122.90 L790.85 122.90 L791.66 122.90 L792.47 122.90 L793.28 122.90 L794.09 122.90 L794.89 122.90 L795.70 122.90 L796.51 122.90 L797.32 122.90 L798.13 122.90 L798.93 122.90 L799.74 122.90 L800.55 122.90 L801.36 122.90 L802.17 122.90 L802.97 122.90 L803.78 122.90 L804.59 122.90 L805.40 122.90 L805.94 122.90" stroke="#2ca02c"/></g><rect x="491.7" y="8.4" width="329.20" height="229.00" fill="none" stroke="#000" stroke-width="2.1" stroke-linejoin="miter"/><line x1="506.66" y1="237.4" x2="506.66" y2="245.6" stroke="#000" stroke-width="2.1"/><line x1="581.48" y1="237.4" x2="581.48" y2="245.6" stroke="#000" stroke-width="2.1"/><line x1="656.30" y1="237.4" x2="656.30" y2="245.6" stroke="#000" stroke-width="2.1"/><line x1="731.12" y1="237.4" x2="731.12" y2="245.6" stroke="#000" stroke-width="2.1"/><line x1="805.94" y1="237.4" x2="805.94" y2="245.6" stroke="#000" stroke-width="2.1"/><line x1="483.5" y1="235.15" x2="491.7" y2="235.15" stroke="#000" stroke-width="2.1"/><line x1="483.5" y1="190.25" x2="491.7" y2="190.25" stroke="#000" stroke-width="2.1"/><line x1="483.5" y1="145.35" x2="491.7" y2="145.35" stroke="#000" stroke-width="2.1"/><line x1="483.5" y1="100.45" x2="491.7" y2="100.45" stroke="#000" stroke-width="2.1"/><line x1="483.5" y1="55.55" x2="491.7" y2="55.55" stroke="#000" stroke-width="2.1"/><line x1="483.5" y1="10.65" x2="491.7" y2="10.65" stroke="#000" stroke-width="2.1"/><g font-family="Liberation Serif" font-size="20.4" fill="#000"><text x="87.06" y="267.6" text-anchor="middle">0</text><text x="161.85" y="267.6" text-anchor="middle">5</text><text x="236.65" y="267.6" text-anchor="middle">10</text><text x="311.45" y="267.6" text-anchor="middle">15</text><text x="386.24" y="267.6" text-anchor="middle">20</text><text x="506.66" y="267.6" text-anchor="middle">0</text><text x="581.48" y="267.6" text-anchor="middle">5</text><text x="656.30" y="267.6" text-anchor="middle">10</text><text x="731.12" y="267.6" text-anchor="middle">15</text><text x="805.94" y="267.6" text-anchor="middle">20</text><text x="55.7" y="25.91" text-anchor="end">2</text><text x="55.7" y="77.95" text-anchor="end">1</text><text x="55.7" y="130.00" text-anchor="end">0</text><text x="55.7" y="182.05" text-anchor="end">1</text><rect x="32.0" y="176.35" width="12.3" height="1.2"/><text x="55.7" y="234.09" text-anchor="end">2</text><rect x="32.0" y="228.39" width="12.3" height="1.2"/><text x="475.4" y="242.25" text-anchor="end">0.0</text><text x="475.4" y="197.35" text-anchor="end">0.2</text><text x="475.4" y="152.45" text-anchor="end">0.4</text><text x="475.4" y="107.55" text-anchor="end">0.6</text><text x="475.4" y="62.65" text-anchor="end">0.8</text><text x="475.4" y="17.75" text-anchor="end">1.0</text><text x="236.65" y="293.2" text-anchor="middle" textLength="52.6" lengthAdjust="spacingAndGlyphs">time <tspan font-style="italic">t</tspan></text><text x="656.30" y="293.2" text-anchor="middle" textLength="52.6" lengthAdjust="spacingAndGlyphs">time <tspan font-style="italic">t</tspan></text><text transform="translate(18,122.85) rotate(-90)" text-anchor="middle" textLength="87.7" lengthAdjust="spacingAndGlyphs">location <tspan font-style="italic">x</tspan></text><g transform="translate(435.1,123) rotate(-90)"><text x="-24.9" y="0" font-style="italic">σ</text><text x="-12.9" y="0.6">(</text><rect x="-5.6" y="-4.7" width="13.5" height="1.2"/><rect x="0.6" y="-10.7" width="1.2" height="13.3"/><text x="8.5" y="0">1</text><text x="19.4" y="0.6">)</text></g></g><rect x="830.2" y="81.2" width="199" height="84.1" rx="2.8" ry="2.8" fill="#fff" stroke="#d0d0d0" stroke-width="2.4"/><g font-family="Liberation Serif" font-size="20.4" fill="#000"><line x1="835.5" y1="94.9" x2="877.3" y2="94.9" stroke="#1f77b4" stroke-width="3.6"/><text x="889.99" y="101.50" font-style="italic">ε</text><rect x="906.0" y="93.80" width="13.1" height="1.2"/><rect x="906.0" y="98.30" width="13.1" height="1.2"/><text x="925.48" y="101.50">0,</text><text x="949.31" y="101.50" font-style="italic">λ</text><rect x="966.30" y="93.80" width="13.6" height="1.2"/><rect x="966.30" y="98.30" width="13.6" height="1.2"/><text x="986.06" y="101.50">1</text><line x1="835.5" y1="121.3" x2="877.3" y2="121.3" stroke="#ff7f0e" stroke-width="3.6"/><text x="889.99" y="127.90" font-style="italic">ε</text><rect x="906.0" y="120.20" width="13.1" height="1.2"/><rect x="906.0" y="124.70" width="13.1" height="1.2"/><text x="925.48" y="127.90">0.5,</text><text x="964.81" y="127.90" font-style="italic">λ</text><rect x="981.80" y="120.20" width="13.6" height="1.2"/><rect x="981.80" y="124.70" width="13.6" height="1.2"/><text x="1001.56" y="127.90">1</text><line x1="835.5" y1="147.4" x2="877.3" y2="147.4" stroke="#2ca02c" stroke-width="3.6"/><text x="889.99" y="154.00" font-style="italic">ε</text><rect x="906.0" y="146.30" width="13.1" height="1.2"/><rect x="906.0" y="150.80" width="13.1" height="1.2"/><text x="925.48" y="154.00">0.5,</text><text x="964.81" y="154.00" font-style="italic">λ</text><rect x="981.80" y="146.30" width="13.6" height="1.2"/><rect x="981.80" y="150.80" width="13.6" height="1.2"/><text x="1001.56" y="154.00">10</text></g></svg></body></html>
